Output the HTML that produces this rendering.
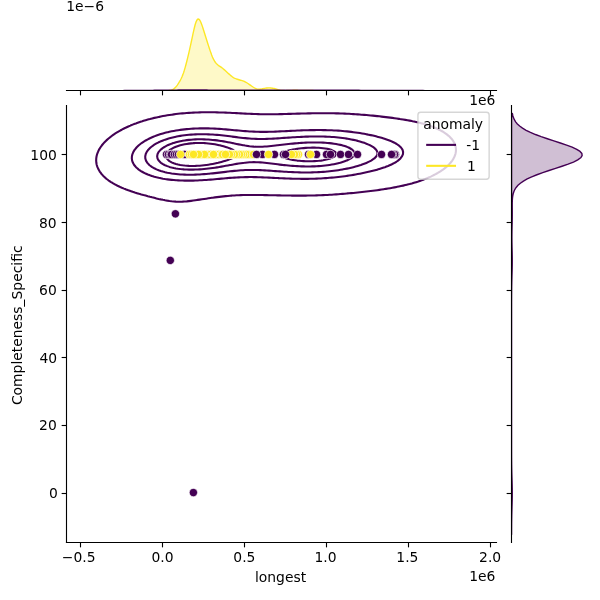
<!DOCTYPE html>
<html lang="en">
<head>
<meta charset="utf-8">
<title>anomaly jointplot</title>
<style>
html,body{margin:0;padding:0;background:#fff;}
body{width:600px;height:600px;overflow:hidden;font-family:"DejaVu Sans","Liberation Sans",sans-serif;}
svg{display:block;}
</style>
</head>
<body>
<svg width="600" height="600" viewBox="0 0 432 432">
 <defs>
  <style type="text/css">*{stroke-linejoin: round; stroke-linecap: butt}</style>
 </defs>
 <g id="figure_1">
  <g id="patch_1">
   <path d="M 0 432 L 432 432 L 432 0 L 0 0 z
" style="fill: #ffffff"/>
  </g>
  <g id="axes_1">
   <g id="patch_2">
    <path d="M 47.82125 390.04 L 357.192214 390.04 L 357.192214 75.812571 L 47.82125 75.812571 z
" style="fill: #ffffff"/>
   </g>
   <g id="matplotlib.axis_1">
    <g id="xtick_1">
     <g id="line2d_1">
      <defs>
       <path id="m53a5f6c6c3" d="M 0 0 L 0 3.5 
" style="stroke: #000000; stroke-width: 0.8"/>
      </defs>
      <g>
       <use href="#m53a5f6c6c3" x="57.9600" y="390.6000" style="stroke: #000000; stroke-width: 0.8"/>
      </g>
     </g>
     <g id="text_1">
      <text style="font-size: 10px; font-family: 'DejaVu Sans', 'Liberation Sans', sans-serif; text-anchor: middle" x="56.6828" y="404.7120">−0.5</text>
     </g>
    </g>
    <g id="xtick_2">
     <g id="line2d_2">
      <g>
       <use href="#m53a5f6c6c3" x="117.0000" y="390.6000" style="stroke: #000000; stroke-width: 0.8"/>
      </g>
     </g>
     <g id="text_2">
      <text style="font-size: 10px; font-family: 'DejaVu Sans', 'Liberation Sans', sans-serif; text-anchor: middle" x="116.9655" y="404.7120">0.0</text>
     </g>
    </g>
    <g id="xtick_3">
     <g id="line2d_3">
      <g>
       <use href="#m53a5f6c6c3" x="176.0400" y="390.6000" style="stroke: #000000; stroke-width: 0.8"/>
      </g>
     </g>
     <g id="text_3">
      <text style="font-size: 10px; font-family: 'DejaVu Sans', 'Liberation Sans', sans-serif; text-anchor: middle" x="175.9394" y="404.7120">0.5</text>
     </g>
    </g>
    <g id="xtick_4">
     <g id="line2d_4">
      <g>
       <use href="#m53a5f6c6c3" x="235.0800" y="390.6000" style="stroke: #000000; stroke-width: 0.8"/>
      </g>
     </g>
     <g id="text_4">
      <text style="font-size: 10px; font-family: 'DejaVu Sans', 'Liberation Sans', sans-serif; text-anchor: middle" x="234.3299" y="404.7120">1.0</text>
     </g>
    </g>
    <g id="xtick_5">
     <g id="line2d_5">
      <g>
       <use href="#m53a5f6c6c3" x="294.1200" y="390.6000" style="stroke: #000000; stroke-width: 0.8"/>
      </g>
     </g>
     <g id="text_5">
      <text style="font-size: 10px; font-family: 'DejaVu Sans', 'Liberation Sans', sans-serif; text-anchor: middle" x="293.3099" y="404.7120">1.5</text>
     </g>
    </g>
    <g id="xtick_6">
     <g id="line2d_6">
      <g>
       <use href="#m53a5f6c6c3" x="353.1600" y="390.6000" style="stroke: #000000; stroke-width: 0.8"/>
      </g>
     </g>
     <g id="text_6">
      <text style="font-size: 10px; font-family: 'DejaVu Sans', 'Liberation Sans', sans-serif; text-anchor: middle" x="352.9055" y="404.7120">2.0</text>
     </g>
    </g>
    <g id="text_7">
     <text style="font-size: 10px; font-family: 'DejaVu Sans', 'Liberation Sans', sans-serif; text-anchor: middle" x="201.9957" y="419.1120">longest</text>
    </g>
    <g id="text_8">
     <text style="font-size: 10px; font-family: 'DejaVu Sans', 'Liberation Sans', sans-serif; text-anchor: end" x="356.7220" y="418.3920">1e6</text>
    </g>
   </g>
   <g id="matplotlib.axis_2">
    <g id="ytick_1">
     <g id="line2d_7">
      <defs>
       <path id="m7cbb305f2e" d="M 0 0 L -3.5 0 
" style="stroke: #000000; stroke-width: 0.8"/>
      </defs>
      <g>
       <use href="#m7cbb305f2e" x="47.8800" y="355.3200" style="stroke: #000000; stroke-width: 0.8"/>
      </g>
     </g>
     <g id="text_9">
      <text style="font-size: 10px; font-family: 'DejaVu Sans', 'Liberation Sans', sans-serif; text-anchor: end" x="41.5716" y="358.6320">0</text>
     </g>
    </g>
    <g id="ytick_2">
     <g id="line2d_8">
      <g>
       <use href="#m7cbb305f2e" x="47.8800" y="306.3600" style="stroke: #000000; stroke-width: 0.8"/>
      </g>
     </g>
     <g id="text_10">
      <text style="font-size: 10px; font-family: 'DejaVu Sans', 'Liberation Sans', sans-serif; text-anchor: end" x="40.8601" y="309.6720">20</text>
     </g>
    </g>
    <g id="ytick_3">
     <g id="line2d_9">
      <g>
       <use href="#m7cbb305f2e" x="47.8800" y="257.4000" style="stroke: #000000; stroke-width: 0.8"/>
      </g>
     </g>
     <g id="text_11">
      <text style="font-size: 10px; font-family: 'DejaVu Sans', 'Liberation Sans', sans-serif; text-anchor: end" x="41.1434" y="261.4320">40</text>
     </g>
    </g>
    <g id="ytick_4">
     <g id="line2d_10">
      <g>
       <use href="#m7cbb305f2e" x="47.8800" y="209.1600" style="stroke: #000000; stroke-width: 0.8"/>
      </g>
     </g>
     <g id="text_12">
      <text style="font-size: 10px; font-family: 'DejaVu Sans', 'Liberation Sans', sans-serif; text-anchor: end" x="40.8546" y="212.4720">60</text>
     </g>
    </g>
    <g id="ytick_5">
     <g id="line2d_11">
      <g>
       <use href="#m7cbb305f2e" x="47.8800" y="160.2000" style="stroke: #000000; stroke-width: 0.8"/>
      </g>
     </g>
     <g id="text_13">
      <text style="font-size: 10px; font-family: 'DejaVu Sans', 'Liberation Sans', sans-serif; text-anchor: end" x="40.8015" y="164.2320">80</text>
     </g>
    </g>
    <g id="ytick_6">
     <g id="line2d_12">
      <g>
       <use href="#m7cbb305f2e" x="47.8800" y="111.2400" style="stroke: #000000; stroke-width: 0.8"/>
      </g>
     </g>
     <g id="text_14">
      <text style="font-size: 10px; font-family: 'DejaVu Sans', 'Liberation Sans', sans-serif; text-anchor: end" x="40.9229" y="115.2720">100</text>
     </g>
    </g>
    <g id="text_15">
     <text style="font-size: 10px; font-family: 'DejaVu Sans', 'Liberation Sans', sans-serif; text-anchor: middle" x="15.7036" y="234.2066" transform="rotate(-90 15.7036 234.2066)">Completeness_Specific</text>
    </g>
   </g>
   <g id="line2d_13"/>
   <g id="line2d_14"/>
   <g id="QuadContourSet_1">
    <path d="M 118.887623 144.13008 L 120.44572 144.447476 L 122.003816 144.705987 L 123.561912 144.908562 L 125.120009 145.05794 L 126.678105 145.156709 L 128.236201 145.207349 L 129.794297 145.212277 L 131.352394 145.173875 L 132.91049 145.094514 L 134.468586 144.976581 L 136.026682 144.822489 L 137.584779 144.634698 L 139.142875 144.415723 L 140.700971 144.168147 L 141.821001 143.971459 L 142.259068 143.920435 L 143.817164 143.722388 L 145.37526 143.509136 L 146.933356 143.282489 L 148.491453 143.044387 L 150.049549 142.796905 L 151.607645 142.542259 L 152.482955 142.397037 L 153.165742 142.316822 L 154.723838 142.132238 L 156.281934 141.946775 L 157.84003 141.762323 L 159.398127 141.580835 L 160.956223 141.404286 L 162.514319 141.23463 L 164.072415 141.073747 L 165.630512 140.923386 L 166.76796 140.822615 L 167.188608 140.795001 L 168.746704 140.702817 L 170.304801 140.620957 L 171.862897 140.550035 L 173.420993 140.490411 L 174.979089 140.442187 L 176.537186 140.405207 L 178.095282 140.379082 L 179.653378 140.36321 L 181.211474 140.356815 L 182.769571 140.358989 L 184.327667 140.368733 L 185.885763 140.384997 L 187.44386 140.406719 L 189.001956 140.432853 L 190.560052 140.462398 L 192.118148 140.494414 L 193.676245 140.528031 L 195.234341 140.562462 L 196.792437 140.596997 L 198.350534 140.631004 L 199.90863 140.663923 L 201.466726 140.695259 L 203.024822 140.724573 L 204.582919 140.751474 L 206.141015 140.775611 L 207.699111 140.796666 L 209.257207 140.814346 L 210.173717 140.822615 L 210.815304 140.830304 L 212.3734 140.843821 L 213.931496 140.851795 L 215.489593 140.8539 L 217.047689 140.849812 L 218.605785 140.839213 L 220.089876 140.822615 L 220.163881 140.821995 L 221.721978 140.803637 L 223.280074 140.779725 L 224.83817 140.750031 L 226.396266 140.714327 L 227.954363 140.672389 L 229.512459 140.62399 L 231.070555 140.568905 L 232.628652 140.506911 L 234.186748 140.437785 L 235.744844 140.361306 L 237.30294 140.277252 L 238.861037 140.185405 L 240.419133 140.085545 L 241.977229 139.977451 L 243.535325 139.860899 L 245.093422 139.735661 L 246.651518 139.6015 L 248.209614 139.458163 L 249.767711 139.30538 L 250.326347 139.248194 L 251.325807 139.168516 L 252.883903 139.038029 L 254.441999 138.899709 L 256.000096 138.753221 L 257.558192 138.598171 L 259.116288 138.434093 L 260.674385 138.260441 L 262.232481 138.076569 L 263.790577 137.881715 L 265.348673 137.674986 L 265.357617 137.673772 L 266.90677 137.505477 L 268.464866 137.325469 L 270.022962 137.13362 L 271.581058 136.928702 L 273.139155 136.709305 L 274.697251 136.473816 L 276.255347 136.220389 L 276.962374 136.09935 L 277.813444 135.979671 L 279.37154 135.74754 L 280.929636 135.49596 L 282.487732 135.222562 L 284.045829 134.924652 L 285.603925 134.599157 L 285.94271 134.524928 L 287.162021 134.299153 L 288.720117 133.986405 L 290.278214 133.642531 L 291.83631 133.263451 L 293.01862 132.950507 L 293.394406 132.864075 L 294.952503 132.486079 L 296.510599 132.066933 L 298.068695 131.600932 L 298.771468 131.376085 L 299.626791 131.131264 L 301.184888 130.649609 L 302.742984 130.110928 L 303.572365 129.801663 L 304.30108 129.551556 L 305.859177 128.976271 L 307.417273 128.328866 L 307.651347 128.227242 L 308.975369 127.682378 L 310.533465 126.967559 L 311.174811 126.65282 L 312.091562 126.214095 L 313.649658 125.400307 L 314.227933 125.078398 L 315.207754 124.530556 L 316.76585 123.574389 L 316.876865 123.503976 L 318.323947 122.553124 L 319.202714 121.929555 L 319.882043 121.41445 L 321.202377 120.355133 L 321.440139 120.144306 L 322.923491 118.780711 L 322.998236 118.701865 L 324.394027 117.20629 L 324.556332 116.997879 L 325.625285 115.631868 L 326.114428 114.842314 L 326.61311 114.057446 L 327.36903 112.483024 L 327.672524 111.563975 L 327.903033 110.908603 L 328.224707 109.334181 L 328.314722 107.759759 L 328.172025 106.185338 L 327.782201 104.610916 L 327.672524 104.33897 L 327.164435 103.036494 L 326.259369 101.462072 L 326.114428 101.265938 L 325.08319 99.887651 L 324.556332 99.322786 L 323.578214 98.313229 L 322.998236 97.803804 L 321.706173 96.738807 L 321.440139 96.542846 L 319.882043 95.45934 L 319.424347 95.164386 L 318.323947 94.499476 L 316.76585 93.657171 L 316.634729 93.589964 L 315.207754 92.873961 L 313.649658 92.184862 L 313.239568 92.015542 L 312.091562 91.532807 L 310.533465 90.942055 L 309.042378 90.44112 L 308.975369 90.417334 L 307.417273 89.888375 L 305.859177 89.417669 L 304.30108 88.997703 L 303.781046 88.866699 L 302.742984 88.578471 L 301.184888 88.180804 L 299.626791 87.822313 L 298.068695 87.498195 L 296.99554 87.292277 L 296.510599 87.185733 L 294.952503 86.861715 L 293.394406 86.565589 L 291.83631 86.294098 L 290.278214 86.0444 L 288.720117 85.814015 L 288.03455 85.717855 L 287.162021 85.572284 L 285.603925 85.325964 L 284.045829 85.096444 L 282.487732 84.882032 L 280.929636 84.681277 L 279.37154 84.492942 L 277.813444 84.315978 L 276.255347 84.149505 L 276.197019 84.143434 L 274.697251 83.951337 L 273.139155 83.763043 L 271.581058 83.585653 L 270.022962 83.418636 L 268.464866 83.261549 L 266.90677 83.114016 L 265.348673 82.975719 L 263.790577 82.846372 L 262.232481 82.725723 L 260.674385 82.613532 L 260.017034 82.569012 L 259.116288 82.491283 L 257.558192 82.365715 L 256.000096 82.250209 L 254.441999 82.144473 L 252.883903 82.048211 L 251.325807 81.961119 L 249.767711 81.882889 L 248.209614 81.813208 L 246.651518 81.751759 L 245.093422 81.698225 L 243.535325 81.652286 L 241.977229 81.613626 L 240.419133 81.581931 L 238.861037 81.556893 L 237.30294 81.538208 L 235.744844 81.52558 L 234.186748 81.518721 L 232.628652 81.51735 L 231.070555 81.521195 L 229.512459 81.529989 L 227.954363 81.543473 L 226.396266 81.561392 L 224.83817 81.58349 L 223.280074 81.60951 L 221.721978 81.639188 L 220.163881 81.672248 L 218.605785 81.708393 L 217.047689 81.747302 L 215.489593 81.788618 L 213.931496 81.831943 L 212.3734 81.876827 L 210.815304 81.922759 L 209.257207 81.969166 L 207.699111 82.015401 L 206.141015 82.060743 L 204.582919 82.104403 L 203.024822 82.145521 L 201.466726 82.183187 L 199.90863 82.216454 L 198.350534 82.244361 L 196.792437 82.265969 L 195.234341 82.280392 L 193.676245 82.286839 L 192.118148 82.284651 L 190.560052 82.273345 L 189.001956 82.252642 L 187.44386 82.222491 L 185.885763 82.183088 L 184.327667 82.134867 L 182.769571 82.078498 L 181.211474 82.014851 L 179.653378 81.944966 L 178.095282 81.870012 L 176.537186 81.791234 L 174.979089 81.709916 L 173.420993 81.627332 L 171.862897 81.544712 L 170.304801 81.463217 L 168.746704 81.383912 L 167.188608 81.30776 L 165.630512 81.235612 L 164.072415 81.168212 L 162.514319 81.106203 L 160.956223 81.050133 L 159.398127 81.000471 L 159.186615 80.99459 L 157.84003 80.944979 L 156.281934 80.897031 L 154.723838 80.859066 L 153.165742 80.831487 L 151.607645 80.814688 L 150.049549 80.809073 L 148.491453 80.815065 L 146.933356 80.833132 L 145.37526 80.863794 L 143.817164 80.907642 L 142.259068 80.965355 L 141.625 80.99459 L 140.700971 81.026451 L 139.142875 81.091307 L 137.584779 81.168267 L 136.026682 81.258178 L 134.468586 81.362018 L 132.91049 81.480918 L 131.352394 81.616185 L 129.794297 81.769323 L 128.236201 81.942073 L 126.678105 82.13644 L 125.120009 82.354742 L 123.749317 82.569012 L 123.561912 82.59187 L 122.003816 82.796445 L 120.44572 83.025301 L 118.887623 83.281424 L 117.329527 83.568284 L 115.771431 83.889912 L 114.65662 84.143434 L 114.213335 84.224818 L 112.655238 84.531513 L 111.097142 84.876163 L 109.539046 85.264264 L 107.98095 85.702268 L 107.927872 85.717855 L 106.422853 86.086506 L 104.864757 86.517083 L 103.306661 87.005484 L 102.466401 87.292277 L 101.748564 87.502483 L 100.190468 87.997196 L 98.632372 88.561826 L 97.857549 88.866699 L 97.074276 89.138795 L 95.516179 89.729046 L 93.958083 90.407547 L 93.883596 90.44112 L 92.399987 91.048893 L 90.84189 91.781985 L 90.375168 92.015542 L 89.283794 92.525503 L 87.725698 93.341464 L 87.278809 93.589964 L 86.167602 94.183041 L 84.609505 95.119305 L 84.536661 95.164386 L 83.051409 96.071851 L 82.063921 96.738807 L 81.493313 97.129556 L 79.935217 98.280694 L 79.892246 98.313229 L 78.37712 99.511838 L 77.927714 99.887651 L 76.819024 100.884994 L 76.199488 101.462072 L 75.260928 102.432195 L 74.684534 103.036494 L 73.702831 104.21778 L 73.374008 104.610916 L 72.256248 106.185338 L 72.144735 106.374886 L 71.293072 107.759759 L 70.586639 109.264991 L 70.551987 109.334181 L 69.939791 110.908603 L 69.528597 112.483024 L 69.298849 114.057446 L 69.241707 115.631868 L 69.358191 117.20629 L 69.65926 118.780711 L 70.166823 120.355133 L 70.586639 121.267251 L 70.877208 121.929555 L 71.798488 123.503976 L 72.144735 123.978335 L 72.94637 125.078398 L 73.702831 125.933918 L 74.354225 126.65282 L 75.260928 127.520093 L 76.038368 128.227242 L 76.819024 128.870574 L 78.037725 129.801663 L 78.37712 130.046327 L 79.935217 131.100273 L 80.376471 131.376085 L 81.493313 132.064628 L 83.051409 132.91296 L 83.123845 132.950507 L 84.609505 133.743281 L 86.167602 134.461282 L 86.313571 134.524928 L 87.725698 135.186226 L 89.283794 135.824469 L 90.019971 136.09935 L 90.84189 136.443435 L 92.399987 137.039118 L 93.958083 137.560157 L 94.322404 137.673772 L 95.516179 138.11273 L 97.074276 138.627386 L 98.632372 139.081602 L 99.253057 139.248194 L 100.190468 139.561157 L 101.748564 140.035788 L 103.306661 140.457496 L 104.82224 140.822615 L 104.864757 140.836124 L 106.422853 141.301663 L 107.98095 141.716248 L 109.539046 142.084824 L 111.024716 142.397037 L 111.097142 142.418561 L 112.655238 142.844734 L 114.213335 143.219806 L 115.771431 143.547432 L 117.329527 143.830773 L 118.225759 143.971459 L 118.887623 144.13008 z
" clip-path="url(#p753433474e)" style="fill: none; stroke: #440154; stroke-width: 1.5"/>
    <path d="M 128.236201 129.868739 L 129.794297 129.952348 L 131.352394 130.013643 L 132.91049 130.053983 L 134.468586 130.074565 L 136.026682 130.076449 L 137.584779 130.060584 L 139.142875 130.027835 L 140.700971 129.979004 L 142.259068 129.914859 L 143.817164 129.836158 L 144.401664 129.801663 L 145.37526 129.751213 L 146.933356 129.659541 L 148.491453 129.557434 L 150.049549 129.445726 L 151.607645 129.325341 L 153.165742 129.197322 L 154.723838 129.062841 L 156.281934 128.923221 L 157.84003 128.779938 L 159.398127 128.634626 L 160.956223 128.489072 L 162.514319 128.345192 L 163.828853 128.227242 L 164.072415 128.207394 L 165.630512 128.087355 L 167.188608 127.974182 L 168.746704 127.869659 L 170.304801 127.775463 L 171.862897 127.693098 L 173.420993 127.62383 L 174.979089 127.56863 L 176.537186 127.528131 L 178.095282 127.502599 L 179.653378 127.491927 L 181.211474 127.495645 L 182.769571 127.512951 L 184.327667 127.542759 L 185.885763 127.583761 L 187.44386 127.634485 L 189.001956 127.693363 L 190.560052 127.758795 L 192.118148 127.829197 L 193.676245 127.903047 L 195.234341 127.978917 L 196.792437 128.055493 L 198.350534 128.131587 L 199.90863 128.206138 L 200.36167 128.227242 L 201.466726 128.283599 L 203.024822 128.359656 L 204.582919 128.431293 L 206.141015 128.497815 L 207.699111 128.558607 L 209.257207 128.613115 L 210.815304 128.660836 L 212.3734 128.7013 L 213.931496 128.734064 L 215.489593 128.758702 L 217.047689 128.774799 L 218.605785 128.781945 L 220.163881 128.779731 L 221.721978 128.767751 L 223.280074 128.745593 L 224.83817 128.712848 L 226.396266 128.6691 L 227.954363 128.613934 L 229.512459 128.54693 L 231.070555 128.46767 L 232.628652 128.37573 L 234.186748 128.270691 L 234.762222 128.227242 L 235.744844 128.159993 L 237.30294 128.041483 L 238.861037 127.910279 L 240.419133 127.766026 L 241.977229 127.608364 L 243.535325 127.43693 L 245.093422 127.251357 L 246.651518 127.05127 L 248.209614 126.836281 L 249.457043 126.65282 L 249.767711 126.609971 L 251.325807 126.385015 L 252.883903 126.145489 L 254.441999 125.890938 L 256.000096 125.620854 L 257.558192 125.334666 L 258.88237 125.078398 L 259.116288 125.034563 L 260.674385 124.733778 L 262.232481 124.415971 L 263.790577 124.080184 L 265.348673 123.725299 L 266.280502 123.503976 L 266.90677 123.355129 L 268.464866 122.971352 L 270.022962 122.565032 L 271.581058 122.134238 L 272.292553 121.929555 L 273.139155 121.677074 L 274.697251 121.191392 L 276.255347 120.674225 L 277.171223 120.355133 L 277.813444 120.113851 L 279.37154 119.502773 L 280.929636 118.848834 L 281.086799 118.780711 L 282.487732 118.095073 L 284.045829 117.28048 L 284.18317 117.20629 L 285.603925 116.289273 L 286.57181 115.631868 L 287.162021 115.1145 L 288.329482 114.057446 L 288.720117 113.542296 L 289.512456 112.483024 L 290.145259 110.908603 L 290.23873 109.334181 L 289.779423 107.759759 L 288.722558 106.185338 L 288.720117 106.182979 L 287.162021 104.742073 L 287.012867 104.610916 L 285.603925 103.681757 L 284.555475 103.036494 L 284.045829 102.778462 L 282.487732 102.028185 L 281.225144 101.462072 L 280.929636 101.345459 L 279.37154 100.753654 L 277.813444 100.202747 L 276.873672 99.887651 L 276.255347 99.695115 L 274.697251 99.229563 L 273.139155 98.792896 L 271.581058 98.382862 L 271.307751 98.313229 L 270.022962 97.995217 L 268.464866 97.630142 L 266.90677 97.286899 L 265.348673 96.964475 L 264.195863 96.738807 L 263.790577 96.658657 L 262.232481 96.362871 L 260.674385 96.08628 L 259.116288 95.828321 L 257.558192 95.588473 L 256.000096 95.366242 L 254.467316 95.164386 L 254.441999 95.16088 L 252.883903 94.95734 L 251.325807 94.770983 L 249.767711 94.601276 L 248.209614 94.447669 L 246.651518 94.309603 L 245.093422 94.186505 L 243.535325 94.077794 L 241.977229 93.982887 L 240.419133 93.901195 L 238.861037 93.832138 L 237.30294 93.775137 L 235.744844 93.729626 L 234.186748 93.695051 L 232.628652 93.670873 L 231.070555 93.656568 L 229.512459 93.65163 L 227.954363 93.655572 L 226.396266 93.667922 L 224.83817 93.688223 L 223.280074 93.71603 L 221.721978 93.750904 L 220.163881 93.792409 L 218.605785 93.840102 L 217.047689 93.893528 L 215.489593 93.952203 L 213.931496 94.015612 L 212.3734 94.083187 L 210.815304 94.154299 L 209.257207 94.228242 L 207.699111 94.30422 L 206.141015 94.381334 L 204.582919 94.458571 L 203.024822 94.534799 L 201.466726 94.608767 L 199.90863 94.679106 L 198.350534 94.744345 L 196.792437 94.802937 L 195.234341 94.853288 L 193.676245 94.893806 L 192.118148 94.92295 L 190.560052 94.9393 L 189.001956 94.941619 L 187.44386 94.928921 L 185.885763 94.900539 L 184.327667 94.856169 L 182.769571 94.795915 L 181.211474 94.720298 L 179.653378 94.630253 L 178.095282 94.527097 L 176.537186 94.41248 L 174.979089 94.288318 L 173.420993 94.156712 L 171.862897 94.019874 L 170.304801 93.88004 L 168.746704 93.739403 L 167.188608 93.600054 L 167.075076 93.589964 L 165.630512 93.449731 L 164.072415 93.3038 L 162.514319 93.165098 L 160.956223 93.035112 L 159.398127 92.915124 L 157.84003 92.806226 L 156.281934 92.709344 L 154.723838 92.625264 L 153.165742 92.554658 L 151.607645 92.498113 L 150.049549 92.456159 L 148.491453 92.429295 L 146.933356 92.418013 L 145.37526 92.422823 L 143.817164 92.444275 L 142.259068 92.482979 L 140.700971 92.53963 L 139.142875 92.615026 L 137.584779 92.71009 L 136.026682 92.825896 L 134.468586 92.963689 L 132.91049 93.124916 L 131.352394 93.311254 L 129.794297 93.524646 L 129.366683 93.589964 L 128.236201 93.746162 L 126.678105 93.987444 L 125.120009 94.258724 L 123.561912 94.562904 L 122.003816 94.903337 L 120.921164 95.164386 L 120.44572 95.271712 L 118.887623 95.652806 L 117.329527 96.077336 L 115.771431 96.550459 L 115.195871 96.738807 L 114.213335 97.050212 L 112.655238 97.589507 L 111.097142 98.190665 L 110.797697 98.313229 L 109.539046 98.829173 L 107.98095 99.533158 L 107.252301 99.887651 L 106.422853 100.305581 L 104.864757 101.155225 L 104.336295 101.462072 L 103.306661 102.104083 L 101.923957 103.036494 L 101.748564 103.168509 L 100.190468 104.394439 L 99.927411 104.610916 L 98.632372 105.856116 L 98.300964 106.185338 L 97.074276 107.688782 L 97.017039 107.759759 L 96.034381 109.334181 L 95.516179 110.564042 L 95.36713 110.908603 L 94.985282 112.483024 L 94.908078 114.057446 L 95.142216 115.631868 L 95.516179 116.680046 L 95.70326 117.20629 L 96.611881 118.780711 L 97.074276 119.352859 L 97.92084 120.355133 L 98.632372 121.014021 L 99.694482 121.929555 L 100.190468 122.28936 L 101.748564 123.328215 L 102.033943 123.503976 L 103.306661 124.20708 L 104.864757 124.96779 L 105.109995 125.078398 L 106.422853 125.638799 L 107.98095 126.227408 L 109.253636 126.65282 L 109.539046 126.747496 L 111.097142 127.223655 L 112.655238 127.641432 L 114.213335 128.007455 L 115.268548 128.227242 L 115.771431 128.336897 L 117.329527 128.642733 L 118.887623 128.909043 L 120.44572 129.139683 L 122.003816 129.337996 L 123.561912 129.506884 L 125.120009 129.648866 L 126.678105 129.76613 L 127.257795 129.801663 L 128.236201 129.868739 z
" clip-path="url(#p753433474e)" style="fill: none; stroke: #440154; stroke-width: 1.5"/>
    <path d="M 125.120009 125.106345 L 126.678105 125.29742 L 128.236201 125.454648 L 129.794297 125.580649 L 131.352394 125.677705 L 132.91049 125.747801 L 134.468586 125.792674 L 136.026682 125.813846 L 137.584779 125.812663 L 139.142875 125.790326 L 140.700971 125.747922 L 142.259068 125.686459 L 143.817164 125.606889 L 145.37526 125.510145 L 146.933356 125.397169 L 148.491453 125.268941 L 150.049549 125.126515 L 150.536386 125.078398 L 151.607645 124.976894 L 153.165742 124.818909 L 154.723838 124.651304 L 156.281934 124.475585 L 157.84003 124.293441 L 159.398127 124.106761 L 160.956223 123.917634 L 162.514319 123.728345 L 164.072415 123.541355 L 164.396858 123.503976 L 165.630512 123.362759 L 167.188608 123.192294 L 168.746704 123.031622 L 170.304801 122.883279 L 171.862897 122.749662 L 173.420993 122.632941 L 174.979089 122.534963 L 176.537186 122.457167 L 178.095282 122.400515 L 179.653378 122.365449 L 181.211474 122.351867 L 182.769571 122.359137 L 184.327667 122.386138 L 185.885763 122.431323 L 187.44386 122.492803 L 189.001956 122.568439 L 190.560052 122.655941 L 192.118148 122.752956 L 193.676245 122.857153 L 195.234341 122.966286 L 196.792437 123.078242 L 198.350534 123.19108 L 199.90863 123.303044 L 201.466726 123.412567 L 202.812302 123.503976 L 203.024822 123.518396 L 204.582919 123.619976 L 206.141015 123.715459 L 207.699111 123.803922 L 209.257207 123.88455 L 210.815304 123.956611 L 212.3734 124.019441 L 213.931496 124.072426 L 215.489593 124.114989 L 217.047689 124.146576 L 218.605785 124.166652 L 220.163881 124.174691 L 221.721978 124.170173 L 223.280074 124.15258 L 224.83817 124.121398 L 226.396266 124.07611 L 227.954363 124.0162 L 229.512459 123.941151 L 231.070555 123.850445 L 232.628652 123.743564 L 234.186748 123.619988 L 235.472924 123.503976 L 235.744844 123.479713 L 237.30294 123.324642 L 238.861037 123.15198 L 240.419133 122.961253 L 241.977229 122.751982 L 243.535325 122.523678 L 245.093422 122.275846 L 246.651518 122.007977 L 247.081796 121.929555 L 248.209614 121.717844 L 249.767711 121.406211 L 251.325807 121.07322 L 252.883903 120.718268 L 254.383924 120.355133 L 254.441999 120.340031 L 256.000096 119.920742 L 257.558192 119.476848 L 259.116288 119.00742 L 259.839859 118.780711 L 260.674385 118.485696 L 262.232481 117.912562 L 263.790577 117.308377 L 264.046977 117.20629 L 265.348673 116.584536 L 266.90677 115.805114 L 267.244054 115.631868 L 268.464866 114.812355 L 269.552456 114.057446 L 270.022962 113.565085 L 271.041779 112.483024 L 271.581058 111.27862 L 271.747348 110.908603 L 271.680137 109.334181 L 271.581058 109.150047 L 270.822494 107.759759 L 270.022962 107.006461 L 269.121774 106.185338 L 268.464866 105.77628 L 266.90677 104.847687 L 266.493413 104.610916 L 265.348673 104.098766 L 263.790577 103.439479 L 262.784474 103.036494 L 262.232481 102.848858 L 260.674385 102.342678 L 259.116288 101.87055 L 257.669991 101.462072 L 257.558192 101.433553 L 256.000096 101.053965 L 254.441999 100.702815 L 252.883903 100.379296 L 251.325807 100.082593 L 250.211702 99.887651 L 249.767711 99.813514 L 248.209614 99.572955 L 246.651518 99.355679 L 245.093422 99.160832 L 243.535325 98.987545 L 241.977229 98.834934 L 240.419133 98.702111 L 238.861037 98.588186 L 237.30294 98.492277 L 235.744844 98.413513 L 234.186748 98.351044 L 232.935174 98.313229 L 232.628652 98.303812 L 231.070555 98.270638 L 229.512459 98.251666 L 227.954363 98.246162 L 226.396266 98.253421 L 224.83817 98.27276 L 223.280074 98.30352 L 222.915279 98.313229 L 221.721978 98.344147 L 220.163881 98.394305 L 218.605785 98.453644 L 217.047689 98.521536 L 215.489593 98.597335 L 213.931496 98.680361 L 212.3734 98.769887 L 210.815304 98.865121 L 209.257207 98.965183 L 207.699111 99.069088 L 206.141015 99.175728 L 204.582919 99.283853 L 203.024822 99.392056 L 201.466726 99.498766 L 199.90863 99.602241 L 198.350534 99.700578 L 196.792437 99.791728 L 195.234341 99.873528 L 194.91891 99.887651 L 193.676245 99.943969 L 192.118148 100.000663 L 190.560052 100.041363 L 189.001956 100.064006 L 187.44386 100.06676 L 185.885763 100.048125 L 184.327667 100.007024 L 182.769571 99.942893 L 181.782692 99.887651 L 181.211474 99.85612 L 179.653378 99.748033 L 178.095282 99.619348 L 176.537186 99.471928 L 174.979089 99.308132 L 173.420993 99.130713 L 171.862897 98.942715 L 170.304801 98.747346 L 168.746704 98.547867 L 167.188608 98.347477 L 166.923481 98.313229 L 165.630512 98.146415 L 164.072415 97.94983 L 162.514319 97.760843 L 160.956223 97.581694 L 159.398127 97.41433 L 157.84003 97.260418 L 156.281934 97.121365 L 154.723838 96.998349 L 153.165742 96.892355 L 151.607645 96.804212 L 150.144066 96.738807 L 150.049549 96.734397 L 148.491453 96.681129 L 146.933356 96.648673 L 145.37526 96.637692 L 143.817164 96.648876 L 142.259068 96.682974 L 140.755228 96.738807 L 140.700971 96.740706 L 139.142875 96.818283 L 137.584779 96.919888 L 136.026682 97.046621 L 134.468586 97.199764 L 132.91049 97.38082 L 131.352394 97.591538 L 129.794297 97.833956 L 128.236201 98.110442 L 127.218571 98.313229 L 126.678105 98.419125 L 125.120009 98.756939 L 123.561912 99.135346 L 122.003816 99.558178 L 120.903474 99.887651 L 120.44572 100.027593 L 118.887623 100.543622 L 117.329527 101.116424 L 116.465265 101.462072 L 115.771431 101.756719 L 114.213335 102.471554 L 113.085655 103.036494 L 112.655238 103.27537 L 111.097142 104.197486 L 110.444616 104.610916 L 109.539046 105.278662 L 108.381615 106.185338 L 107.98095 106.57366 L 106.804231 107.759759 L 106.422853 108.277687 L 105.658805 109.334181 L 104.922603 110.908603 L 104.864757 111.174464 L 104.574245 112.483024 L 104.626563 114.057446 L 104.864757 114.860293 L 105.098255 115.631868 L 106.030511 117.20629 L 106.422853 117.648594 L 107.498721 118.780711 L 107.98095 119.165022 L 109.539046 120.295452 L 109.628453 120.355133 L 111.097142 121.172353 L 112.655238 121.928972 L 112.656544 121.929555 L 114.213335 122.550671 L 115.771431 123.092622 L 117.122934 123.503976 L 117.329527 123.563502 L 118.887623 123.969755 L 120.44572 124.321948 L 122.003816 124.625554 L 123.561912 124.885314 L 124.924502 125.078398 L 125.120009 125.106345 z
" clip-path="url(#p753433474e)" style="fill: none; stroke: #440154; stroke-width: 1.5"/>
    <path d="M 132.91049 121.986245 L 134.468586 122.06872 L 136.026682 122.118382 L 137.584779 122.137267 L 139.142875 122.127171 L 140.700971 122.089699 L 142.259068 122.026302 L 143.817164 121.938325 L 143.940541 121.929555 L 145.37526 121.825283 L 146.933356 121.689925 L 148.491453 121.533727 L 150.049549 121.358033 L 151.607645 121.164261 L 153.165742 120.953945 L 154.723838 120.728774 L 156.281934 120.49063 L 157.13633 120.355133 L 157.84003 120.235502 L 159.398127 119.964235 L 160.956223 119.686854 L 162.514319 119.406297 L 164.072415 119.125779 L 165.630512 118.848775 L 166.029229 118.780711 L 167.188608 118.556866 L 168.746704 118.26931 L 170.304801 117.997709 L 171.862897 117.746248 L 173.420993 117.51897 L 174.979089 117.319624 L 176.034446 117.20629 L 176.537186 117.140592 L 178.095282 116.979081 L 179.653378 116.859913 L 181.211474 116.784706 L 182.769571 116.754006 L 184.327667 116.767234 L 185.885763 116.822694 L 187.44386 116.917659 L 189.001956 117.048498 L 190.516155 117.20629 L 190.560052 117.210021 L 192.118148 117.364046 L 193.676245 117.535167 L 195.234341 117.719196 L 196.792437 117.912068 L 198.350534 118.10994 L 199.90863 118.309264 L 201.466726 118.506829 L 203.024822 118.699775 L 203.699474 118.780711 L 204.582919 118.872728 L 206.141015 119.027656 L 207.699111 119.172871 L 209.257207 119.306955 L 210.815304 119.42866 L 212.3734 119.536884 L 213.931496 119.630633 L 215.489593 119.709 L 217.047689 119.771144 L 218.605785 119.816271 L 220.163881 119.843624 L 221.721978 119.852471 L 223.280074 119.842101 L 224.83817 119.811818 L 226.396266 119.760937 L 227.954363 119.688782 L 229.512459 119.594687 L 231.070555 119.477989 L 232.628652 119.33803 L 234.186748 119.174155 L 235.744844 118.985705 L 237.240105 118.780711 L 237.30294 118.771022 L 238.861037 118.504312 L 240.419133 118.208821 L 241.977229 117.88389 L 243.535325 117.528836 L 244.840916 117.20629 L 245.093422 117.131356 L 246.651518 116.638507 L 248.209614 116.109195 L 249.525788 115.631868 L 249.767711 115.51627 L 251.325807 114.735717 L 252.606981 114.057446 L 252.883903 113.831153 L 254.441999 112.510638 L 254.473606 112.483024 L 255.261734 110.908603 L 255.005982 109.334181 L 254.441999 108.664545 L 253.637594 107.759759 L 252.883903 107.289606 L 251.325807 106.3874 L 250.950274 106.185338 L 249.767711 105.732528 L 248.209614 105.187309 L 246.651518 104.695597 L 246.358003 104.610916 L 245.093422 104.316159 L 243.535325 103.990593 L 241.977229 103.702535 L 240.419133 103.450258 L 238.861037 103.232025 L 237.30294 103.04611 L 237.207737 103.036494 L 235.744844 102.905633 L 234.186748 102.791794 L 232.628652 102.702268 L 231.070555 102.63576 L 229.512459 102.591024 L 227.954363 102.566863 L 226.396266 102.562134 L 224.83817 102.575741 L 223.280074 102.606638 L 221.721978 102.653823 L 220.163881 102.716325 L 218.605785 102.793198 L 217.047689 102.883509 L 215.489593 102.986316 L 214.803687 103.036494 L 213.931496 103.106855 L 212.3734 103.243654 L 210.815304 103.390649 L 209.257207 103.546566 L 207.699111 103.710003 L 206.141015 103.879401 L 204.582919 104.053008 L 203.024822 104.228855 L 201.466726 104.404728 L 199.90863 104.57815 L 199.602547 104.610916 L 198.350534 104.768614 L 196.792437 104.955083 L 195.234341 105.12848 L 193.676245 105.284827 L 192.118148 105.41994 L 190.560052 105.529517 L 189.001956 105.609258 L 187.44386 105.655012 L 185.885763 105.662955 L 184.327667 105.629787 L 182.769571 105.552939 L 181.211474 105.430777 L 179.653378 105.26277 L 178.095282 105.049635 L 176.537186 104.793398 L 175.578406 104.610916 L 174.979089 104.515959 L 173.420993 104.239691 L 171.862897 103.939808 L 170.304801 103.621604 L 168.746704 103.290742 L 167.57834 103.036494 L 167.188608 102.962127 L 165.630512 102.660413 L 164.072415 102.362715 L 162.514319 102.073354 L 160.956223 101.796222 L 159.398127 101.534739 L 158.938203 101.462072 L 157.84003 101.302007 L 156.281934 101.093152 L 154.723838 100.905679 L 153.165742 100.741144 L 151.607645 100.60083 L 150.049549 100.485801 L 148.491453 100.396954 L 146.933356 100.335076 L 145.37526 100.300889 L 143.817164 100.295103 L 142.259068 100.318452 L 140.700971 100.371738 L 139.142875 100.455874 L 137.584779 100.571914 L 136.026682 100.721092 L 134.468586 100.904864 L 132.91049 101.124941 L 131.352394 101.383335 L 130.9372 101.462072 L 129.794297 101.690015 L 128.236201 102.043158 L 126.678105 102.442889 L 125.120009 102.89272 L 124.667105 103.036494 L 123.561912 103.423111 L 122.003816 104.024758 L 120.630358 104.610916 L 120.44572 104.702526 L 118.887623 105.533405 L 117.765908 106.185338 L 117.329527 106.501 L 115.771431 107.704841 L 115.704052 107.759759 L 114.292152 109.334181 L 114.213335 109.478653 L 113.451405 110.908603 L 113.150628 112.483024 L 113.404549 114.057446 L 114.213335 115.545432 L 114.263775 115.631868 L 115.771431 117.129586 L 115.856965 117.20629 L 117.329527 118.154142 L 118.443459 118.780711 L 118.887623 118.981712 L 120.44572 119.611524 L 122.003816 120.15228 L 122.674158 120.355133 L 123.561912 120.591469 L 125.120009 120.949996 L 126.678105 121.251888 L 128.236201 121.502381 L 129.794297 121.706015 L 131.352394 121.866722 L 132.153682 121.929555 L 132.91049 121.986245 z
" clip-path="url(#p753433474e)" style="fill: none; stroke: #440154; stroke-width: 1.5"/>
    <path d="M 129.794297 118.788862 L 131.352394 119.024767 L 132.91049 119.207201 L 134.468586 119.340421 L 136.026682 119.428124 L 137.584779 119.473532 L 139.142875 119.479467 L 140.700971 119.448415 L 142.259068 119.382592 L 143.817164 119.283997 L 145.37526 119.154473 L 146.933356 118.995758 L 148.491453 118.809539 L 148.704899 118.780711 L 150.049549 118.576495 L 151.607645 118.313964 L 153.165742 118.027341 L 154.723838 117.7188 L 156.281934 117.390713 L 157.120928 117.20629 L 157.84003 117.015865 L 159.398127 116.590569 L 160.956223 116.152815 L 162.514319 115.70652 L 162.776771 115.631868 L 164.072415 115.140741 L 165.630512 114.552034 L 166.95712 114.057446 L 167.188608 113.919294 L 168.746704 113.022382 L 169.71774 112.483024 L 170.304801 111.571703 L 170.75758 110.908603 L 170.304801 110.05214 L 169.961125 109.334181 L 168.746704 108.555258 L 167.571725 107.759759 L 167.188608 107.604283 L 165.630512 106.952729 L 164.072415 106.300547 L 163.796679 106.185338 L 162.514319 105.794642 L 160.956223 105.334396 L 159.398127 104.896729 L 158.317354 104.610916 L 157.84003 104.508243 L 156.281934 104.195091 L 154.723838 103.911652 L 153.165742 103.660421 L 151.607645 103.443392 L 150.049549 103.262143 L 148.491453 103.117917 L 147.300702 103.036494 L 146.933356 103.014179 L 145.37526 102.953374 L 143.817164 102.92809 L 142.259068 102.939171 L 140.700971 102.98752 L 139.820567 103.036494 L 139.142875 103.077888 L 137.584779 103.216087 L 136.026682 103.398314 L 134.468586 103.626005 L 132.91049 103.900896 L 131.352394 104.225077 L 129.794297 104.601046 L 129.758072 104.610916 L 128.236201 105.093469 L 126.678105 105.65073 L 125.341231 106.185338 L 125.120009 106.296275 L 123.561912 107.150247 L 122.545709 107.759759 L 122.003816 108.214878 L 120.759923 109.334181 L 120.44572 109.825477 L 119.784183 110.908603 L 119.54329 112.483024 L 120.065871 114.057446 L 120.44572 114.509881 L 121.503055 115.631868 L 122.003816 115.963181 L 123.561912 116.865383 L 124.246638 117.20629 L 125.120009 117.534426 L 126.678105 118.035056 L 128.236201 118.450763 L 129.750082 118.780711 L 129.794297 118.788862 z M 215.489593 115.777625 L 217.047689 115.900872 L 218.605785 115.996384 L 220.163881 116.062988 L 221.721978 116.099595 L 223.280074 116.10518 L 224.83817 116.078775 L 226.396266 116.019459 L 227.954363 115.926349 L 229.512459 115.798591 L 231.070555 115.635359 L 231.097843 115.631868 L 232.628652 115.36958 L 234.186748 115.054901 L 235.744844 114.691932 L 237.30294 114.280064 L 238.056094 114.057446 L 238.861037 113.676459 L 240.419133 112.86818 L 241.102682 112.483024 L 241.977229 111.157049 L 242.131846 110.908603 L 241.977229 110.574801 L 241.332888 109.334181 L 240.419133 108.81596 L 238.861037 108.049489 L 238.174465 107.759759 L 237.30294 107.537185 L 235.744844 107.19875 L 234.186748 106.919517 L 232.628652 106.695626 L 231.070555 106.523396 L 229.512459 106.399345 L 227.954363 106.320197 L 226.396266 106.282886 L 224.83817 106.284555 L 223.280074 106.322546 L 221.721978 106.394385 L 220.163881 106.497762 L 218.605785 106.630509 L 217.047689 106.790572 L 215.489593 106.975974 L 213.931496 107.184783 L 212.3734 107.415069 L 210.815304 107.664862 L 210.259939 107.759759 L 209.257207 108.015182 L 207.699111 108.432762 L 206.141015 108.868372 L 204.582919 109.318532 L 204.529553 109.334181 L 203.024822 110.279761 L 202.033636 110.908603 L 202.473723 112.483024 L 203.024822 112.741711 L 204.582919 113.459891 L 205.933508 114.057446 L 206.141015 114.107518 L 207.699111 114.466847 L 209.257207 114.8016 L 210.815304 115.108322 L 212.3734 115.384086 L 213.931496 115.626403 L 213.972203 115.631868 L 215.489593 115.777625 z
" clip-path="url(#p753433474e)" style="fill: none; stroke: #440154; stroke-width: 1.5"/>
    <path clip-path="url(#p753433474e)" style="fill: none; stroke: #440154; stroke-width: 1.5"/>
   </g>
   <g id="patch_3">
    <path d="M 47.8800 390.6000 L 47.8800 75.9600" style="fill: none; stroke: #000000; stroke-width: 0.8; stroke-linejoin: miter; stroke-linecap: square"/>
   </g>
   <g id="patch_4">
    <path d="M 47.8800 390.6000 L 357.4800 390.6000" style="fill: none; stroke: #000000; stroke-width: 0.8; stroke-linejoin: miter; stroke-linecap: square"/>
   </g>
   <g id="PathCollection_1">
    <defs>
     <path id="C0_0_26d2f91854" d="M 0 3 C 0.795609 3 1.55874 2.683901 2.12132 2.12132 C 2.683901 1.55874 3 0.795609 3 -0 C 3 -0.795609 2.683901 -1.55874 2.12132 -2.12132 C 1.55874 -2.683901 0.795609 -3 0 -3 C -0.795609 -3 -1.55874 -2.683901 -2.12132 -2.12132 C -2.683901 -1.55874 -3 -0.795609 -3 0 C -3 0.795609 -2.683901 1.55874 -2.12132 2.12132 C -1.55874 2.683901 -0.795609 3 0 3 z
"/>
    </defs>
    <g clip-path="url(#p753433474e)">
     <use href="#C0_0_26d2f91854" x="119.88" y="111.208193" style="fill: #440154; stroke: #ffffff; stroke-width: 0.48"/>
    </g>
    <g clip-path="url(#p753433474e)">
     <use href="#C0_0_26d2f91854" x="121.32" y="111.208193" style="fill: #440154; stroke: #ffffff; stroke-width: 0.48"/>
    </g>
    <g clip-path="url(#p753433474e)">
     <use href="#C0_0_26d2f91854" x="122.76" y="111.208193" style="fill: #440154; stroke: #ffffff; stroke-width: 0.48"/>
    </g>
    <g clip-path="url(#p753433474e)">
     <use href="#C0_0_26d2f91854" x="123.48" y="111.208193" style="fill: #440154; stroke: #ffffff; stroke-width: 0.48"/>
    </g>
    <g clip-path="url(#p753433474e)">
     <use href="#C0_0_26d2f91854" x="125.64" y="111.208193" style="fill: #440154; stroke: #ffffff; stroke-width: 0.48"/>
    </g>
    <g clip-path="url(#p753433474e)">
     <use href="#C0_0_26d2f91854" x="127.08" y="111.208193" style="fill: #440154; stroke: #ffffff; stroke-width: 0.48"/>
    </g>
    <g clip-path="url(#p753433474e)">
     <use href="#C0_0_26d2f91854" x="128.52" y="111.208193" style="fill: #440154; stroke: #ffffff; stroke-width: 0.48"/>
    </g>
    <g clip-path="url(#p753433474e)">
     <use href="#C0_0_26d2f91854" x="132.84" y="111.208193" style="fill: #440154; stroke: #ffffff; stroke-width: 0.48"/>
    </g>
    <g clip-path="url(#p753433474e)">
     <use href="#C0_0_26d2f91854" x="170.28" y="111.208193" style="fill: #fde725; stroke: #ffffff; stroke-width: 0.48"/>
    </g>
    <g clip-path="url(#p753433474e)">
     <use href="#C0_0_26d2f91854" x="149.4" y="111.208193" style="fill: #fde725; stroke: #ffffff; stroke-width: 0.48"/>
    </g>
    <g clip-path="url(#p753433474e)">
     <use href="#C0_0_26d2f91854" x="178.2" y="111.208193" style="fill: #fde725; stroke: #ffffff; stroke-width: 0.48"/>
    </g>
    <g clip-path="url(#p753433474e)">
     <use href="#C0_0_26d2f91854" x="145.8" y="111.208193" style="fill: #fde725; stroke: #ffffff; stroke-width: 0.48"/>
    </g>
    <g clip-path="url(#p753433474e)">
     <use href="#C0_0_26d2f91854" x="163.08" y="111.208193" style="fill: #fde725; stroke: #ffffff; stroke-width: 0.48"/>
    </g>
    <g clip-path="url(#p753433474e)">
     <use href="#C0_0_26d2f91854" x="153" y="111.208193" style="fill: #fde725; stroke: #ffffff; stroke-width: 0.48"/>
    </g>
    <g clip-path="url(#p753433474e)">
     <use href="#C0_0_26d2f91854" x="140.76" y="111.208193" style="fill: #fde725; stroke: #ffffff; stroke-width: 0.48"/>
    </g>
    <g clip-path="url(#p753433474e)">
     <use href="#C0_0_26d2f91854" x="156.6" y="111.208193" style="fill: #fde725; stroke: #ffffff; stroke-width: 0.48"/>
    </g>
    <g clip-path="url(#p753433474e)">
     <use href="#C0_0_26d2f91854" x="145.08" y="111.208193" style="fill: #fde725; stroke: #ffffff; stroke-width: 0.48"/>
    </g>
    <g clip-path="url(#p753433474e)">
     <use href="#C0_0_26d2f91854" x="160.2" y="111.208193" style="fill: #fde725; stroke: #ffffff; stroke-width: 0.48"/>
    </g>
    <g clip-path="url(#p753433474e)">
     <use href="#C0_0_26d2f91854" x="154.44" y="111.208193" style="fill: #fde725; stroke: #ffffff; stroke-width: 0.48"/>
    </g>
    <g clip-path="url(#p753433474e)">
     <use href="#C0_0_26d2f91854" x="158.76" y="111.208193" style="fill: #fde725; stroke: #ffffff; stroke-width: 0.48"/>
    </g>
    <g clip-path="url(#p753433474e)">
     <use href="#C0_0_26d2f91854" x="168.12" y="111.208193" style="fill: #fde725; stroke: #ffffff; stroke-width: 0.48"/>
    </g>
    <g clip-path="url(#p753433474e)">
     <use href="#C0_0_26d2f91854" x="139.32" y="111.208193" style="fill: #fde725; stroke: #ffffff; stroke-width: 0.48"/>
    </g>
    <g clip-path="url(#p753433474e)">
     <use href="#C0_0_26d2f91854" x="161.64" y="111.208193" style="fill: #fde725; stroke: #ffffff; stroke-width: 0.48"/>
    </g>
    <g clip-path="url(#p753433474e)">
     <use href="#C0_0_26d2f91854" x="142.92" y="111.208193" style="fill: #fde725; stroke: #ffffff; stroke-width: 0.48"/>
    </g>
    <g clip-path="url(#p753433474e)">
     <use href="#C0_0_26d2f91854" x="173.88" y="111.208193" style="fill: #fde725; stroke: #ffffff; stroke-width: 0.48"/>
    </g>
    <g clip-path="url(#p753433474e)">
     <use href="#C0_0_26d2f91854" x="175.32" y="111.208193" style="fill: #fde725; stroke: #ffffff; stroke-width: 0.48"/>
    </g>
    <g clip-path="url(#p753433474e)">
     <use href="#C0_0_26d2f91854" x="158.04" y="111.208193" style="fill: #fde725; stroke: #ffffff; stroke-width: 0.48"/>
    </g>
    <g clip-path="url(#p753433474e)">
     <use href="#C0_0_26d2f91854" x="179.64" y="111.208193" style="fill: #fde725; stroke: #ffffff; stroke-width: 0.48"/>
    </g>
    <g clip-path="url(#p753433474e)">
     <use href="#C0_0_26d2f91854" x="168.84" y="111.208193" style="fill: #fde725; stroke: #ffffff; stroke-width: 0.48"/>
    </g>
    <g clip-path="url(#p753433474e)">
     <use href="#C0_0_26d2f91854" x="147.96" y="111.208193" style="fill: #fde725; stroke: #ffffff; stroke-width: 0.48"/>
    </g>
    <g clip-path="url(#p753433474e)">
     <use href="#C0_0_26d2f91854" x="147.24" y="111.208193" style="fill: #fde725; stroke: #ffffff; stroke-width: 0.48"/>
    </g>
    <g clip-path="url(#p753433474e)">
     <use href="#C0_0_26d2f91854" x="172.44" y="111.208193" style="fill: #fde725; stroke: #ffffff; stroke-width: 0.48"/>
    </g>
    <g clip-path="url(#p753433474e)">
     <use href="#C0_0_26d2f91854" x="144.36" y="111.208193" style="fill: #fde725; stroke: #ffffff; stroke-width: 0.48"/>
    </g>
    <g clip-path="url(#p753433474e)">
     <use href="#C0_0_26d2f91854" x="155.88" y="111.208193" style="fill: #fde725; stroke: #ffffff; stroke-width: 0.48"/>
    </g>
    <g clip-path="url(#p753433474e)">
     <use href="#C0_0_26d2f91854" x="141.48" y="111.208193" style="fill: #fde725; stroke: #ffffff; stroke-width: 0.48"/>
    </g>
    <g clip-path="url(#p753433474e)">
     <use href="#C0_0_26d2f91854" x="178.92" y="111.208193" style="fill: #fde725; stroke: #ffffff; stroke-width: 0.48"/>
    </g>
    <g clip-path="url(#p753433474e)">
     <use href="#C0_0_26d2f91854" x="171" y="111.208193" style="fill: #fde725; stroke: #ffffff; stroke-width: 0.48"/>
    </g>
    <g clip-path="url(#p753433474e)">
     <use href="#C0_0_26d2f91854" x="160.92" y="111.208193" style="fill: #fde725; stroke: #ffffff; stroke-width: 0.48"/>
    </g>
    <g clip-path="url(#p753433474e)">
     <use href="#C0_0_26d2f91854" x="171.72" y="111.208193" style="fill: #fde725; stroke: #ffffff; stroke-width: 0.48"/>
    </g>
    <g clip-path="url(#p753433474e)">
     <use href="#C0_0_26d2f91854" x="176.04" y="111.208193" style="fill: #fde725; stroke: #ffffff; stroke-width: 0.48"/>
    </g>
    <g clip-path="url(#p753433474e)">
     <use href="#C0_0_26d2f91854" x="140.04" y="111.208193" style="fill: #fde725; stroke: #ffffff; stroke-width: 0.48"/>
    </g>
    <g clip-path="url(#p753433474e)">
     <use href="#C0_0_26d2f91854" x="169.56" y="111.208193" style="fill: #fde725; stroke: #ffffff; stroke-width: 0.48"/>
    </g>
    <g clip-path="url(#p753433474e)">
     <use href="#C0_0_26d2f91854" x="137.16" y="111.208193" style="fill: #fde725; stroke: #ffffff; stroke-width: 0.48"/>
    </g>
    <g clip-path="url(#p753433474e)">
     <use href="#C0_0_26d2f91854" x="162.36" y="111.208193" style="fill: #fde725; stroke: #ffffff; stroke-width: 0.48"/>
    </g>
    <g clip-path="url(#p753433474e)">
     <use href="#C0_0_26d2f91854" x="137.88" y="111.208193" style="fill: #fde725; stroke: #ffffff; stroke-width: 0.48"/>
    </g>
    <g clip-path="url(#p753433474e)">
     <use href="#C0_0_26d2f91854" x="152.28" y="111.208193" style="fill: #fde725; stroke: #ffffff; stroke-width: 0.48"/>
    </g>
    <g clip-path="url(#p753433474e)">
     <use href="#C0_0_26d2f91854" x="165.24" y="111.208193" style="fill: #fde725; stroke: #ffffff; stroke-width: 0.48"/>
    </g>
    <g clip-path="url(#p753433474e)">
     <use href="#C0_0_26d2f91854" x="148.68" y="111.208193" style="fill: #fde725; stroke: #ffffff; stroke-width: 0.48"/>
    </g>
    <g clip-path="url(#p753433474e)">
     <use href="#C0_0_26d2f91854" x="155.16" y="111.208193" style="fill: #fde725; stroke: #ffffff; stroke-width: 0.48"/>
    </g>
    <g clip-path="url(#p753433474e)">
     <use href="#C0_0_26d2f91854" x="146.52" y="111.208193" style="fill: #fde725; stroke: #ffffff; stroke-width: 0.48"/>
    </g>
    <g clip-path="url(#p753433474e)">
     <use href="#C0_0_26d2f91854" x="164.52" y="111.208193" style="fill: #fde725; stroke: #ffffff; stroke-width: 0.48"/>
    </g>
    <g clip-path="url(#p753433474e)">
     <use href="#C0_0_26d2f91854" x="157.32" y="111.208193" style="fill: #fde725; stroke: #ffffff; stroke-width: 0.48"/>
    </g>
    <g clip-path="url(#p753433474e)">
     <use href="#C0_0_26d2f91854" x="150.84" y="111.208193" style="fill: #fde725; stroke: #ffffff; stroke-width: 0.48"/>
    </g>
    <g clip-path="url(#p753433474e)">
     <use href="#C0_0_26d2f91854" x="159.48" y="111.208193" style="fill: #fde725; stroke: #ffffff; stroke-width: 0.48"/>
    </g>
    <g clip-path="url(#p753433474e)">
     <use href="#C0_0_26d2f91854" x="163.8" y="111.208193" style="fill: #fde725; stroke: #ffffff; stroke-width: 0.48"/>
    </g>
    <g clip-path="url(#p753433474e)">
     <use href="#C0_0_26d2f91854" x="174.6" y="111.208193" style="fill: #fde725; stroke: #ffffff; stroke-width: 0.48"/>
    </g>
    <g clip-path="url(#p753433474e)">
     <use href="#C0_0_26d2f91854" x="173.16" y="111.208193" style="fill: #fde725; stroke: #ffffff; stroke-width: 0.48"/>
    </g>
    <g clip-path="url(#p753433474e)">
     <use href="#C0_0_26d2f91854" x="165.96" y="111.208193" style="fill: #fde725; stroke: #ffffff; stroke-width: 0.48"/>
    </g>
    <g clip-path="url(#p753433474e)">
     <use href="#C0_0_26d2f91854" x="167.4" y="111.208193" style="fill: #fde725; stroke: #ffffff; stroke-width: 0.48"/>
    </g>
    <g clip-path="url(#p753433474e)">
     <use href="#C0_0_26d2f91854" x="143.64" y="111.208193" style="fill: #fde725; stroke: #ffffff; stroke-width: 0.48"/>
    </g>
    <g clip-path="url(#p753433474e)">
     <use href="#C0_0_26d2f91854" x="150.12" y="111.208193" style="fill: #fde725; stroke: #ffffff; stroke-width: 0.48"/>
    </g>
    <g clip-path="url(#p753433474e)">
     <use href="#C0_0_26d2f91854" x="151.56" y="111.208193" style="fill: #fde725; stroke: #ffffff; stroke-width: 0.48"/>
    </g>
    <g clip-path="url(#p753433474e)">
     <use href="#C0_0_26d2f91854" x="136.44" y="111.208193" style="fill: #fde725; stroke: #ffffff; stroke-width: 0.48"/>
    </g>
    <g clip-path="url(#p753433474e)">
     <use href="#C0_0_26d2f91854" x="142.2" y="111.208193" style="fill: #fde725; stroke: #ffffff; stroke-width: 0.48"/>
    </g>
    <g clip-path="url(#p753433474e)">
     <use href="#C0_0_26d2f91854" x="176.76" y="111.208193" style="fill: #fde725; stroke: #ffffff; stroke-width: 0.48"/>
    </g>
    <g clip-path="url(#p753433474e)">
     <use href="#C0_0_26d2f91854" x="138.6" y="111.208193" style="fill: #fde725; stroke: #ffffff; stroke-width: 0.48"/>
    </g>
    <g clip-path="url(#p753433474e)">
     <use href="#C0_0_26d2f91854" x="177.48" y="111.208193" style="fill: #fde725; stroke: #ffffff; stroke-width: 0.48"/>
    </g>
    <g clip-path="url(#p753433474e)">
     <use href="#C0_0_26d2f91854" x="153.72" y="111.208193" style="fill: #fde725; stroke: #ffffff; stroke-width: 0.48"/>
    </g>
    <g clip-path="url(#p753433474e)">
     <use href="#C0_0_26d2f91854" x="166.68" y="111.208193" style="fill: #fde725; stroke: #ffffff; stroke-width: 0.48"/>
    </g>
    <g clip-path="url(#p753433474e)">
     <use href="#C0_0_26d2f91854" x="147.24" y="111.208193" style="fill: #fde725; stroke: #ffffff; stroke-width: 0.48"/>
    </g>
    <g clip-path="url(#p753433474e)">
     <use href="#C0_0_26d2f91854" x="142.92" y="111.208193" style="fill: #fde725; stroke: #ffffff; stroke-width: 0.48"/>
    </g>
    <g clip-path="url(#p753433474e)">
     <use href="#C0_0_26d2f91854" x="136.44" y="111.208193" style="fill: #fde725; stroke: #ffffff; stroke-width: 0.48"/>
    </g>
    <g clip-path="url(#p753433474e)">
     <use href="#C0_0_26d2f91854" x="137.88" y="111.208193" style="fill: #fde725; stroke: #ffffff; stroke-width: 0.48"/>
    </g>
    <g clip-path="url(#p753433474e)">
     <use href="#C0_0_26d2f91854" x="129.96" y="111.208193" style="fill: #fde725; stroke: #ffffff; stroke-width: 0.48"/>
    </g>
    <g clip-path="url(#p753433474e)">
     <use href="#C0_0_26d2f91854" x="139.32" y="111.208193" style="fill: #fde725; stroke: #ffffff; stroke-width: 0.48"/>
    </g>
    <g clip-path="url(#p753433474e)">
     <use href="#C0_0_26d2f91854" x="175.32" y="111.208193" style="fill: #fde725; stroke: #ffffff; stroke-width: 0.48"/>
    </g>
    <g clip-path="url(#p753433474e)">
     <use href="#C0_0_26d2f91854" x="173.88" y="111.208193" style="fill: #fde725; stroke: #ffffff; stroke-width: 0.48"/>
    </g>
    <g clip-path="url(#p753433474e)">
     <use href="#C0_0_26d2f91854" x="172.44" y="111.208193" style="fill: #fde725; stroke: #ffffff; stroke-width: 0.48"/>
    </g>
    <g clip-path="url(#p753433474e)">
     <use href="#C0_0_26d2f91854" x="170.28" y="111.208193" style="fill: #fde725; stroke: #ffffff; stroke-width: 0.48"/>
    </g>
    <g clip-path="url(#p753433474e)">
     <use href="#C0_0_26d2f91854" x="168.84" y="111.208193" style="fill: #fde725; stroke: #ffffff; stroke-width: 0.48"/>
    </g>
    <g clip-path="url(#p753433474e)">
     <use href="#C0_0_26d2f91854" x="166.68" y="111.208193" style="fill: #fde725; stroke: #ffffff; stroke-width: 0.48"/>
    </g>
    <g clip-path="url(#p753433474e)">
     <use href="#C0_0_26d2f91854" x="165.24" y="111.208193" style="fill: #fde725; stroke: #ffffff; stroke-width: 0.48"/>
    </g>
    <g clip-path="url(#p753433474e)">
     <use href="#C0_0_26d2f91854" x="160.2" y="111.208193" style="fill: #fde725; stroke: #ffffff; stroke-width: 0.48"/>
    </g>
    <g clip-path="url(#p753433474e)">
     <use href="#C0_0_26d2f91854" x="162.36" y="111.208193" style="fill: #fde725; stroke: #ffffff; stroke-width: 0.48"/>
    </g>
    <g clip-path="url(#p753433474e)">
     <use href="#C0_0_26d2f91854" x="153.72" y="111.208193" style="fill: #fde725; stroke: #ffffff; stroke-width: 0.48"/>
    </g>
    <g clip-path="url(#p753433474e)">
     <use href="#C0_0_26d2f91854" x="182.52" y="111.208193" style="fill: #fde725; stroke: #ffffff; stroke-width: 0.48"/>
    </g>
    <g clip-path="url(#p753433474e)">
     <use href="#C0_0_26d2f91854" x="189" y="111.208193" style="fill: #440154; stroke: #ffffff; stroke-width: 0.48"/>
    </g>
    <g clip-path="url(#p753433474e)">
     <use href="#C0_0_26d2f91854" x="184.68" y="111.208193" style="fill: #440154; stroke: #ffffff; stroke-width: 0.48"/>
    </g>
    <g clip-path="url(#p753433474e)">
     <use href="#C0_0_26d2f91854" x="197.64" y="111.208193" style="fill: #440154; stroke: #ffffff; stroke-width: 0.48"/>
    </g>
    <g clip-path="url(#p753433474e)">
     <use href="#C0_0_26d2f91854" x="193.32" y="111.208193" style="fill: #fde725; stroke: #ffffff; stroke-width: 0.48"/>
    </g>
    <g clip-path="url(#p753433474e)">
     <use href="#C0_0_26d2f91854" x="204.12" y="111.208193" style="fill: #440154; stroke: #ffffff; stroke-width: 0.48"/>
    </g>
    <g clip-path="url(#p753433474e)">
     <use href="#C0_0_26d2f91854" x="214.92" y="111.208193" style="fill: #fde725; stroke: #ffffff; stroke-width: 0.48"/>
    </g>
    <g clip-path="url(#p753433474e)">
     <use href="#C0_0_26d2f91854" x="213.48" y="111.208193" style="fill: #fde725; stroke: #ffffff; stroke-width: 0.48"/>
    </g>
    <g clip-path="url(#p753433474e)">
     <use href="#C0_0_26d2f91854" x="212.04" y="111.208193" style="fill: #fde725; stroke: #ffffff; stroke-width: 0.48"/>
    </g>
    <g clip-path="url(#p753433474e)">
     <use href="#C0_0_26d2f91854" x="209.88" y="111.208193" style="fill: #fde725; stroke: #ffffff; stroke-width: 0.48"/>
    </g>
    <g clip-path="url(#p753433474e)">
     <use href="#C0_0_26d2f91854" x="205.56" y="111.208193" style="fill: #440154; stroke: #ffffff; stroke-width: 0.48"/>
    </g>
    <g clip-path="url(#p753433474e)">
     <use href="#C0_0_26d2f91854" x="222.12" y="111.208193" style="fill: #440154; stroke: #ffffff; stroke-width: 0.48"/>
    </g>
    <g clip-path="url(#p753433474e)">
     <use href="#C0_0_26d2f91854" x="227.88" y="111.208193" style="fill: #440154; stroke: #ffffff; stroke-width: 0.48"/>
    </g>
    <g clip-path="url(#p753433474e)">
     <use href="#C0_0_26d2f91854" x="223.56" y="111.208193" style="fill: #fde725; stroke: #ffffff; stroke-width: 0.48"/>
    </g>
    <g clip-path="url(#p753433474e)">
     <use href="#C0_0_26d2f91854" x="235.08" y="111.208193" style="fill: #440154; stroke: #ffffff; stroke-width: 0.48"/>
    </g>
    <g clip-path="url(#p753433474e)">
     <use href="#C0_0_26d2f91854" x="237.96" y="111.208193" style="fill: #440154; stroke: #ffffff; stroke-width: 0.48"/>
    </g>
    <g clip-path="url(#p753433474e)">
     <use href="#C0_0_26d2f91854" x="245.16" y="111.208193" style="fill: #440154; stroke: #ffffff; stroke-width: 0.48"/>
    </g>
    <g clip-path="url(#p753433474e)">
     <use href="#C0_0_26d2f91854" x="250.92" y="111.208193" style="fill: #440154; stroke: #ffffff; stroke-width: 0.48"/>
    </g>
    <g clip-path="url(#p753433474e)">
     <use href="#C0_0_26d2f91854" x="257.4" y="111.208193" style="fill: #440154; stroke: #ffffff; stroke-width: 0.48"/>
    </g>
    <g clip-path="url(#p753433474e)">
     <use href="#C0_0_26d2f91854" x="274.68" y="111.208193" style="fill: #440154; stroke: #ffffff; stroke-width: 0.48"/>
    </g>
    <g clip-path="url(#p753433474e)">
     <use href="#C0_0_26d2f91854" x="284.76" y="111.208193" style="fill: #440154; stroke: #ffffff; stroke-width: 0.48"/>
    </g>
    <g clip-path="url(#p753433474e)">
     <use href="#C0_0_26d2f91854" x="284.04" y="111.208193" style="fill: #440154; stroke: #ffffff; stroke-width: 0.48"/>
    </g>
    <g clip-path="url(#p753433474e)">
     <use href="#C0_0_26d2f91854" x="282.6" y="111.208193" style="fill: #440154; stroke: #ffffff; stroke-width: 0.48"/>
    </g>
    <g clip-path="url(#p753433474e)">
     <use href="#C0_0_26d2f91854" x="281.88" y="111.208193" style="fill: #440154; stroke: #ffffff; stroke-width: 0.48"/>
    </g>
   </g>
   <g id="PathCollection_2">
    <defs>
     <path id="C1_0_eb2aa00d58" d="M 0 3 C 0.795609 3 1.55874 2.683901 2.12132 2.12132 C 2.683901 1.55874 3 0.795609 3 -0 C 3 -0.795609 2.683901 -1.55874 2.12132 -2.12132 C 1.55874 -2.683901 0.795609 -3 0 -3 C -0.795609 -3 -1.55874 -2.683901 -2.12132 -2.12132 C -2.683901 -1.55874 -3 -0.795609 -3 0 C -3 0.795609 -2.683901 1.55874 -2.12132 2.12132 C -1.55874 2.683901 -0.795609 3 0 3 z
"/>
    </defs>
    <g clip-path="url(#p753433474e)">
     <use href="#C1_0_eb2aa00d58" x="126.288" y="153.936" style="fill: #440154; stroke: #ffffff; stroke-width: 0.48"/>
    </g>
    <g clip-path="url(#p753433474e)">
     <use href="#C1_0_eb2aa00d58" x="122.616" y="187.488" style="fill: #440154; stroke: #ffffff; stroke-width: 0.48"/>
    </g>
    <g clip-path="url(#p753433474e)">
     <use href="#C1_0_eb2aa00d58" x="139.248" y="354.644379" style="fill: #440154; stroke: #ffffff; stroke-width: 0.48"/>
    </g>
   </g>
   <g id="legend_1">
    <g id="patch_5">
     <path d="M 302.902214 129.052571 L 350.192214 129.052571 Q 352.192214 129.052571 352.192214 127.052571 L 352.192214 82.812571 Q 352.192214 80.812571 350.192214 80.812571 L 302.902214 80.812571 Q 300.902214 80.812571 300.902214 82.812571 L 300.902214 127.052571 Q 300.902214 129.052571 302.902214 129.052571 z
" style="fill: #ffffff; opacity: 0.8; stroke: #cccccc; stroke-linejoin: miter"/>
    </g>
    <g id="text_16">
     <text style="font-size: 10px; font-family: 'DejaVu Sans', 'Liberation Sans', sans-serif; text-anchor: start" x="304.7011" y="92.9520">anomaly</text>
    </g>
    <g id="line2d_15">
     <path d="M 307.597214 104.312571 L 317.597214 104.312571 L 327.597214 104.312571 
" style="fill: none; stroke: #440154; stroke-width: 1.5; stroke-linecap: square"/>
    </g>
    <g id="text_17">
     <text style="font-size: 10px; font-family: 'DejaVu Sans', 'Liberation Sans', sans-serif; text-anchor: start" x="335.6309" y="108.0720">-1</text>
    </g>
    <g id="line2d_16">
     <path d="M 307.597214 119.392571 L 317.597214 119.392571 L 327.597214 119.392571 
" style="fill: none; stroke: #fde725; stroke-width: 1.5; stroke-linecap: square"/>
    </g>
    <g id="text_18">
     <text style="font-size: 10px; font-family: 'DejaVu Sans', 'Liberation Sans', sans-serif; text-anchor: start" x="336.2644" y="123.1920">1</text>
    </g>
   </g>
  </g>
  <g id="axes_2">
   <g id="patch_6">
    <path d="M 47.82125 64.977143 L 357.192214 64.977143 L 357.192214 10.8 L 47.82125 10.8 z
" style="fill: #ffffff"/>
   </g>
   <g id="FillBetweenPolyCollection_1">
    <defs>
     <path id="m092bf23fc3" d="M 120.00165 -367.046544 L 120.00165 -367.022857 L 120.563644 -367.022857 L 121.125639 -367.022857 L 121.687633 -367.022857 L 122.249627 -367.022857 L 122.811622 -367.022857 L 123.373616 -367.022857 L 123.935611 -367.022857 L 124.497605 -367.022857 L 125.0596 -367.022857 L 125.621594 -367.022857 L 126.183588 -367.022857 L 126.745583 -367.022857 L 127.307577 -367.022857 L 127.869572 -367.022857 L 128.431566 -367.022857 L 128.993561 -367.022857 L 129.555555 -367.022857 L 130.117549 -367.022857 L 130.679544 -367.022857 L 131.241538 -367.022857 L 131.803533 -367.022857 L 132.365527 -367.022857 L 132.927522 -367.022857 L 133.489516 -367.022857 L 134.05151 -367.022857 L 134.613505 -367.022857 L 135.175499 -367.022857 L 135.737494 -367.022857 L 136.299488 -367.022857 L 136.861483 -367.022857 L 137.423477 -367.022857 L 137.985471 -367.022857 L 138.547466 -367.022857 L 139.10946 -367.022857 L 139.671455 -367.022857 L 140.233449 -367.022857 L 140.795444 -367.022857 L 141.357438 -367.022857 L 141.919432 -367.022857 L 142.481427 -367.022857 L 143.043421 -367.022857 L 143.605416 -367.022857 L 144.16741 -367.022857 L 144.729405 -367.022857 L 145.291399 -367.022857 L 145.853393 -367.022857 L 146.415388 -367.022857 L 146.977382 -367.022857 L 147.539377 -367.022857 L 148.101371 -367.022857 L 148.663366 -367.022857 L 149.22536 -367.022857 L 149.787354 -367.022857 L 150.349349 -367.022857 L 150.911343 -367.022857 L 151.473338 -367.022857 L 152.035332 -367.022857 L 152.597327 -367.022857 L 153.159321 -367.022857 L 153.721315 -367.022857 L 154.28331 -367.022857 L 154.845304 -367.022857 L 155.407299 -367.022857 L 155.969293 -367.022857 L 156.531288 -367.022857 L 157.093282 -367.022857 L 157.655276 -367.022857 L 158.217271 -367.022857 L 158.779265 -367.022857 L 159.34126 -367.022857 L 159.903254 -367.022857 L 160.465249 -367.022857 L 161.027243 -367.022857 L 161.589237 -367.022857 L 162.151232 -367.022857 L 162.713226 -367.022857 L 163.275221 -367.022857 L 163.837215 -367.022857 L 164.39921 -367.022857 L 164.961204 -367.022857 L 165.523198 -367.022857 L 166.085193 -367.022857 L 166.647187 -367.022857 L 167.209182 -367.022857 L 167.771176 -367.022857 L 168.333171 -367.022857 L 168.895165 -367.022857 L 169.457159 -367.022857 L 170.019154 -367.022857 L 170.581148 -367.022857 L 171.143143 -367.022857 L 171.705137 -367.022857 L 172.267132 -367.022857 L 172.829126 -367.022857 L 173.39112 -367.022857 L 173.953115 -367.022857 L 174.515109 -367.022857 L 175.077104 -367.022857 L 175.639098 -367.022857 L 176.201093 -367.022857 L 176.763087 -367.022857 L 177.325081 -367.022857 L 177.887076 -367.022857 L 178.44907 -367.022857 L 179.011065 -367.022857 L 179.573059 -367.022857 L 180.135054 -367.022857 L 180.697048 -367.022857 L 181.259042 -367.022857 L 181.821037 -367.022857 L 182.383031 -367.022857 L 182.945026 -367.022857 L 183.50702 -367.022857 L 184.069015 -367.022857 L 184.631009 -367.022857 L 185.193003 -367.022857 L 185.754998 -367.022857 L 186.316992 -367.022857 L 186.878987 -367.022857 L 187.440981 -367.022857 L 188.002976 -367.022857 L 188.56497 -367.022857 L 189.126964 -367.022857 L 189.688959 -367.022857 L 190.250953 -367.022857 L 190.812948 -367.022857 L 191.374942 -367.022857 L 191.936937 -367.022857 L 192.498931 -367.022857 L 193.060925 -367.022857 L 193.62292 -367.022857 L 194.184914 -367.022857 L 194.746909 -367.022857 L 195.308903 -367.022857 L 195.870898 -367.022857 L 196.432892 -367.022857 L 196.994886 -367.022857 L 197.556881 -367.022857 L 198.118875 -367.022857 L 198.68087 -367.022857 L 199.242864 -367.022857 L 199.804859 -367.022857 L 200.366853 -367.022857 L 200.928847 -367.022857 L 201.490842 -367.022857 L 202.052836 -367.022857 L 202.614831 -367.022857 L 203.176825 -367.022857 L 203.73882 -367.022857 L 204.300814 -367.022857 L 204.862809 -367.022857 L 205.424803 -367.022857 L 205.986797 -367.022857 L 206.548792 -367.022857 L 207.110786 -367.022857 L 207.672781 -367.022857 L 208.234775 -367.022857 L 208.79677 -367.022857 L 209.358764 -367.022857 L 209.920758 -367.022857 L 210.482753 -367.022857 L 211.044747 -367.022857 L 211.606742 -367.022857 L 212.168736 -367.022857 L 212.730731 -367.022857 L 213.292725 -367.022857 L 213.854719 -367.022857 L 214.416714 -367.022857 L 214.978708 -367.022857 L 215.540703 -367.022857 L 216.102697 -367.022857 L 216.664692 -367.022857 L 217.226686 -367.022857 L 217.78868 -367.022857 L 218.350675 -367.022857 L 218.912669 -367.022857 L 219.474664 -367.022857 L 220.036658 -367.022857 L 220.598653 -367.022857 L 221.160647 -367.022857 L 221.722641 -367.022857 L 222.284636 -367.022857 L 222.84663 -367.022857 L 223.408625 -367.022857 L 223.970619 -367.022857 L 224.532614 -367.022857 L 225.094608 -367.022857 L 225.656602 -367.022857 L 226.218597 -367.022857 L 226.780591 -367.022857 L 227.342586 -367.022857 L 227.90458 -367.022857 L 228.466575 -367.022857 L 229.028569 -367.022857 L 229.590563 -367.022857 L 230.152558 -367.022857 L 230.714552 -367.022857 L 231.276547 -367.022857 L 231.838541 -367.022857 L 231.838541 -367.023739 L 231.838541 -367.023739 L 231.276547 -367.0244 L 230.714552 -367.025457 L 230.152558 -367.027079 L 229.590563 -367.029465 L 229.028569 -367.032822 L 228.466575 -367.037338 L 227.90458 -367.043135 L 227.342586 -367.05022 L 226.780591 -367.058438 L 226.218597 -367.067444 L 225.656602 -367.076704 L 225.094608 -367.085538 L 224.532614 -367.093203 L 223.970619 -367.099005 L 223.408625 -367.102426 L 222.84663 -367.103233 L 222.284636 -367.101554 L 221.722641 -367.097895 L 221.160647 -367.093102 L 220.598653 -367.088274 L 220.036658 -367.084637 L 219.474664 -367.083407 L 218.912669 -367.085661 L 218.350675 -367.092214 L 217.78868 -367.10353 L 217.226686 -367.119654 L 216.664692 -367.140177 L 216.102697 -367.164238 L 215.540703 -367.190561 L 214.978708 -367.21754 L 214.416714 -367.243364 L 213.854719 -367.26617 L 213.292725 -367.284226 L 212.730731 -367.296098 L 212.168736 -367.300806 L 211.606742 -367.297925 L 211.044747 -367.287638 L 210.482753 -367.27071 L 209.920758 -367.248403 L 209.358764 -367.222333 L 208.79677 -367.194299 L 208.234775 -367.166109 L 207.672781 -367.139435 L 207.110786 -367.115739 L 206.548792 -367.096258 L 205.986797 -367.082092 L 205.424803 -367.074341 L 204.862809 -367.074288 L 204.300814 -367.083566 L 203.73882 -367.104252 L 203.176825 -367.138833 L 202.614831 -367.189999 L 202.052836 -367.260262 L 201.490842 -367.351426 L 200.928847 -367.464022 L 200.366853 -367.596826 L 199.804859 -367.746633 L 199.242864 -367.908379 L 198.68087 -368.075662 L 198.118875 -368.241557 L 197.556881 -368.399543 L 196.994886 -368.544287 L 196.432892 -368.672069 L 195.870898 -368.780756 L 195.308903 -368.869371 L 194.746909 -368.937471 L 194.184914 -368.98459 L 193.62292 -369.009984 L 193.060925 -369.012747 L 192.498931 -368.992228 L 191.936937 -368.948559 L 191.374942 -368.883054 L 190.812948 -368.798364 L 190.250953 -368.698358 L 189.688959 -368.587874 L 189.126964 -368.472494 L 188.56497 -368.358465 L 188.002976 -368.252783 L 187.440981 -368.16332 L 186.878987 -368.098789 L 186.316992 -368.0684 L 185.754998 -368.081117 L 185.193003 -368.144596 L 184.631009 -368.264043 L 184.069015 -368.441263 L 183.50702 -368.674208 L 182.945026 -368.95717 L 182.383031 -369.281624 L 181.821037 -369.637544 L 181.259042 -370.014858 L 180.697048 -370.404668 L 180.135054 -370.799935 L 179.573059 -371.195472 L 179.011065 -371.587301 L 178.44907 -371.971666 L 177.887076 -372.344103 L 177.325081 -372.698999 L 176.763087 -373.029936 L 176.201093 -373.330822 L 175.639098 -373.597518 L 175.077104 -373.829364 L 174.515109 -374.029975 L 173.953115 -374.206836 L 173.39112 -374.369677 L 172.829126 -374.528115 L 172.267132 -374.689447 L 171.705137 -374.857507 L 171.143143 -375.033165 L 170.581148 -375.216311 L 170.019154 -375.408495 L 169.457159 -375.61496 L 168.895165 -375.844957 L 168.333171 -376.109921 L 167.771176 -376.420046 L 167.209182 -376.780614 L 166.647187 -377.189693 L 166.085193 -377.638346 L 165.523198 -378.113435 L 164.961204 -378.601955 L 164.39921 -379.095074 L 163.837215 -379.590106 L 163.275221 -380.089527 L 162.713226 -380.597482 L 162.151232 -381.115405 L 161.589237 -381.638861 L 161.027243 -382.157188 L 160.465249 -382.656306 L 159.903254 -383.123568 L 159.34126 -383.552664 L 158.779265 -383.946567 L 158.217271 -384.317495 L 157.655276 -384.684301 L 157.093282 -385.068795 L 156.531288 -385.492853 L 155.969293 -385.977409 L 155.407299 -386.543172 L 154.845304 -387.211699 L 154.28331 -388.005113 L 153.721315 -388.943455 L 153.159321 -390.040083 L 152.597327 -391.296962 L 152.035332 -392.702179 L 151.473338 -394.231406 L 150.911343 -395.853289 L 150.349349 -397.536948 L 149.787354 -399.258677 L 149.22536 -401.005246 L 148.663366 -402.772688 L 148.101371 -404.561446 L 147.539377 -406.370118 L 146.977382 -408.190188 L 146.415388 -410.003072 L 145.853393 -411.779251 L 145.291399 -413.478219 L 144.729405 -415.048125 L 144.16741 -416.425151 L 143.605416 -417.534149 L 143.043421 -418.292723 L 142.481427 -418.620136 L 141.919432 -418.450433 L 141.357438 -417.746745 L 140.795444 -416.512354 L 140.233449 -414.794387 L 139.671455 -412.678126 L 139.10946 -410.272969 L 138.547466 -407.693776 L 137.985471 -405.042736 L 137.423477 -402.396403 L 136.861483 -399.800679 L 136.299488 -397.273956 L 135.737494 -394.816327 L 135.175499 -392.421374 L 134.613505 -390.086847 L 134.05151 -387.821305 L 133.489516 -385.645346 L 132.927522 -383.587713 L 132.365527 -381.678061 L 131.803533 -379.938987 L 131.241538 -378.379957 L 130.679544 -376.994973 L 130.117549 -375.764517 L 129.555555 -374.660953 L 128.993561 -373.655528 L 128.431566 -372.724834 L 127.869572 -371.854957 L 127.307577 -371.042501 L 126.745583 -370.292668 L 126.183588 -369.61544 L 125.621594 -369.021223 L 125.0596 -368.517212 L 124.497605 -368.105245 L 123.935611 -367.781343 L 123.373616 -367.536622 L 122.811622 -367.359022 L 122.249627 -367.235233 L 121.687633 -367.152358 L 121.125639 -367.099056 L 120.563644 -367.066113 L 120.00165 -367.046544 z
" style="stroke: #fde725"/>
    </defs>
    <g clip-path="url(#p8f64bed14b)">
     <use href="#m092bf23fc3" x="0.360" y="432.288" style="fill: #fde725; fill-opacity: 0.25; stroke: #fde725"/>
    </g>
   </g>
   <g id="FillBetweenPolyCollection_2">
    <defs>
     <path id="m2b85b7ac0e" d="M 60.491458 -367.024501 L 60.491458 -367.022857 L 61.933332 -367.022857 L 63.375206 -367.022857 L 64.81708 -367.022857 L 66.258955 -367.022857 L 67.700829 -367.022857 L 69.142703 -367.022857 L 70.584577 -367.022857 L 72.026451 -367.022857 L 73.468326 -367.022857 L 74.9102 -367.022857 L 76.352074 -367.022857 L 77.793948 -367.022857 L 79.235822 -367.022857 L 80.677697 -367.022857 L 82.119571 -367.022857 L 83.561445 -367.022857 L 85.003319 -367.022857 L 86.445194 -367.022857 L 87.887068 -367.022857 L 89.328942 -367.022857 L 90.770816 -367.022857 L 92.21269 -367.022857 L 93.654565 -367.022857 L 95.096439 -367.022857 L 96.538313 -367.022857 L 97.980187 -367.022857 L 99.422061 -367.022857 L 100.863936 -367.022857 L 102.30581 -367.022857 L 103.747684 -367.022857 L 105.189558 -367.022857 L 106.631432 -367.022857 L 108.073307 -367.022857 L 109.515181 -367.022857 L 110.957055 -367.022857 L 112.398929 -367.022857 L 113.840804 -367.022857 L 115.282678 -367.022857 L 116.724552 -367.022857 L 118.166426 -367.022857 L 119.6083 -367.022857 L 121.050175 -367.022857 L 122.492049 -367.022857 L 123.933923 -367.022857 L 125.375797 -367.022857 L 126.817671 -367.022857 L 128.259546 -367.022857 L 129.70142 -367.022857 L 131.143294 -367.022857 L 132.585168 -367.022857 L 134.027042 -367.022857 L 135.468917 -367.022857 L 136.910791 -367.022857 L 138.352665 -367.022857 L 139.794539 -367.022857 L 141.236414 -367.022857 L 142.678288 -367.022857 L 144.120162 -367.022857 L 145.562036 -367.022857 L 147.00391 -367.022857 L 148.445785 -367.022857 L 149.887659 -367.022857 L 151.329533 -367.022857 L 152.771407 -367.022857 L 154.213281 -367.022857 L 155.655156 -367.022857 L 157.09703 -367.022857 L 158.538904 -367.022857 L 159.980778 -367.022857 L 161.422653 -367.022857 L 162.864527 -367.022857 L 164.306401 -367.022857 L 165.748275 -367.022857 L 167.190149 -367.022857 L 168.632024 -367.022857 L 170.073898 -367.022857 L 171.515772 -367.022857 L 172.957646 -367.022857 L 174.39952 -367.022857 L 175.841395 -367.022857 L 177.283269 -367.022857 L 178.725143 -367.022857 L 180.167017 -367.022857 L 181.608891 -367.022857 L 183.050766 -367.022857 L 184.49264 -367.022857 L 185.934514 -367.022857 L 187.376388 -367.022857 L 188.818263 -367.022857 L 190.260137 -367.022857 L 191.702011 -367.022857 L 193.143885 -367.022857 L 194.585759 -367.022857 L 196.027634 -367.022857 L 197.469508 -367.022857 L 198.911382 -367.022857 L 200.353256 -367.022857 L 201.79513 -367.022857 L 203.237005 -367.022857 L 204.678879 -367.022857 L 206.120753 -367.022857 L 207.562627 -367.022857 L 209.004501 -367.022857 L 210.446376 -367.022857 L 211.88825 -367.022857 L 213.330124 -367.022857 L 214.771998 -367.022857 L 216.213873 -367.022857 L 217.655747 -367.022857 L 219.097621 -367.022857 L 220.539495 -367.022857 L 221.981369 -367.022857 L 223.423244 -367.022857 L 224.865118 -367.022857 L 226.306992 -367.022857 L 227.748866 -367.022857 L 229.19074 -367.022857 L 230.632615 -367.022857 L 232.074489 -367.022857 L 233.516363 -367.022857 L 234.958237 -367.022857 L 236.400112 -367.022857 L 237.841986 -367.022857 L 239.28386 -367.022857 L 240.725734 -367.022857 L 242.167608 -367.022857 L 243.609483 -367.022857 L 245.051357 -367.022857 L 246.493231 -367.022857 L 247.935105 -367.022857 L 249.376979 -367.022857 L 250.818854 -367.022857 L 252.260728 -367.022857 L 253.702602 -367.022857 L 255.144476 -367.022857 L 256.58635 -367.022857 L 258.028225 -367.022857 L 259.470099 -367.022857 L 260.911973 -367.022857 L 262.353847 -367.022857 L 263.795722 -367.022857 L 265.237596 -367.022857 L 266.67947 -367.022857 L 268.121344 -367.022857 L 269.563218 -367.022857 L 271.005093 -367.022857 L 272.446967 -367.022857 L 273.888841 -367.022857 L 275.330715 -367.022857 L 276.772589 -367.022857 L 278.214464 -367.022857 L 279.656338 -367.022857 L 281.098212 -367.022857 L 282.540086 -367.022857 L 283.98196 -367.022857 L 285.423835 -367.022857 L 286.865709 -367.022857 L 288.307583 -367.022857 L 289.749457 -367.022857 L 291.191332 -367.022857 L 292.633206 -367.022857 L 294.07508 -367.022857 L 295.516954 -367.022857 L 296.958828 -367.022857 L 298.400703 -367.022857 L 299.842577 -367.022857 L 301.284451 -367.022857 L 302.726325 -367.022857 L 304.168199 -367.022857 L 305.610074 -367.022857 L 307.051948 -367.022857 L 308.493822 -367.022857 L 309.935696 -367.022857 L 311.377571 -367.022857 L 312.819445 -367.022857 L 314.261319 -367.022857 L 315.703193 -367.022857 L 317.145067 -367.022857 L 318.586942 -367.022857 L 320.028816 -367.022857 L 321.47069 -367.022857 L 322.912564 -367.022857 L 324.354438 -367.022857 L 325.796313 -367.022857 L 327.238187 -367.022857 L 328.680061 -367.022857 L 330.121935 -367.022857 L 331.563809 -367.022857 L 333.005684 -367.022857 L 334.447558 -367.022857 L 335.889432 -367.022857 L 337.331306 -367.022857 L 338.773181 -367.022857 L 340.215055 -367.022857 L 341.656929 -367.022857 L 343.098803 -367.022857 L 344.540677 -367.022857 L 345.982552 -367.022857 L 347.424426 -367.022857 L 347.424426 -367.023639 L 347.424426 -367.023639 L 345.982552 -367.023823 L 344.540677 -367.024044 L 343.098803 -367.024309 L 341.656929 -367.024625 L 340.215055 -367.024999 L 338.773181 -367.02544 L 337.331306 -367.025958 L 335.889432 -367.026561 L 334.447558 -367.027261 L 333.005684 -367.02807 L 331.563809 -367.028998 L 330.121935 -367.030058 L 328.680061 -367.031263 L 327.238187 -367.032624 L 325.796313 -367.034155 L 324.354438 -367.035866 L 322.912564 -367.03777 L 321.47069 -367.039877 L 320.028816 -367.042195 L 318.586942 -367.044733 L 317.145067 -367.047497 L 315.703193 -367.050492 L 314.261319 -367.053718 L 312.819445 -367.057177 L 311.377571 -367.060865 L 309.935696 -367.064777 L 308.493822 -367.068905 L 307.051948 -367.073239 L 305.610074 -367.077767 L 304.168199 -367.082472 L 302.726325 -367.087339 L 301.284451 -367.092348 L 299.842577 -367.097481 L 298.400703 -367.102715 L 296.958828 -367.10803 L 295.516954 -367.113406 L 294.07508 -367.118823 L 292.633206 -367.124261 L 291.191332 -367.129706 L 289.749457 -367.135143 L 288.307583 -367.140562 L 286.865709 -367.145954 L 285.423835 -367.151316 L 283.98196 -367.156649 L 282.540086 -367.161957 L 281.098212 -367.167248 L 279.656338 -367.172534 L 278.214464 -367.177831 L 276.772589 -367.183158 L 275.330715 -367.188536 L 273.888841 -367.193988 L 272.446967 -367.199537 L 271.005093 -367.205206 L 269.563218 -367.211018 L 268.121344 -367.216993 L 266.67947 -367.223146 L 265.237596 -367.229491 L 263.795722 -367.236034 L 262.353847 -367.242775 L 260.911973 -367.249708 L 259.470099 -367.25682 L 258.028225 -367.26409 L 256.58635 -367.271488 L 255.144476 -367.278979 L 253.702602 -367.286519 L 252.260728 -367.29406 L 250.818854 -367.301547 L 249.376979 -367.308922 L 247.935105 -367.316126 L 246.493231 -367.323096 L 245.051357 -367.329773 L 243.609483 -367.336098 L 242.167608 -367.342018 L 240.725734 -367.347483 L 239.28386 -367.352452 L 237.841986 -367.356891 L 236.400112 -367.360774 L 234.958237 -367.364084 L 233.516363 -367.366815 L 232.074489 -367.368967 L 230.632615 -367.370551 L 229.19074 -367.371584 L 227.748866 -367.37209 L 226.306992 -367.3721 L 224.865118 -367.371646 L 223.423244 -367.370766 L 221.981369 -367.369496 L 220.539495 -367.367872 L 219.097621 -367.365932 L 217.655747 -367.363708 L 216.213873 -367.361231 L 214.771998 -367.358527 L 213.330124 -367.355619 L 211.88825 -367.352528 L 210.446376 -367.349271 L 209.004501 -367.345863 L 207.562627 -367.342318 L 206.120753 -367.33865 L 204.678879 -367.334875 L 203.237005 -367.331012 L 201.79513 -367.327081 L 200.353256 -367.323109 L 198.911382 -367.319128 L 197.469508 -367.315175 L 196.027634 -367.311296 L 194.585759 -367.307538 L 193.143885 -367.303959 L 191.702011 -367.300618 L 190.260137 -367.297578 L 188.818263 -367.294907 L 187.376388 -367.29267 L 185.934514 -367.290935 L 184.49264 -367.289762 L 183.050766 -367.289211 L 181.608891 -367.289332 L 180.167017 -367.29017 L 178.725143 -367.291758 L 177.283269 -367.294119 L 175.841395 -367.297264 L 174.39952 -367.301193 L 172.957646 -367.305891 L 171.515772 -367.311333 L 170.073898 -367.317482 L 168.632024 -367.324286 L 167.190149 -367.331687 L 165.748275 -367.339614 L 164.306401 -367.34799 L 162.864527 -367.356729 L 161.422653 -367.365741 L 159.980778 -367.374931 L 158.538904 -367.3842 L 157.09703 -367.393449 L 155.655156 -367.402575 L 154.213281 -367.411479 L 152.771407 -367.42006 L 151.329533 -367.428221 L 149.887659 -367.435864 L 148.445785 -367.442899 L 147.00391 -367.449236 L 145.562036 -367.45479 L 144.120162 -367.459481 L 142.678288 -367.463236 L 141.236414 -367.465985 L 139.794539 -367.467669 L 138.352665 -367.468233 L 136.910791 -367.467632 L 135.468917 -367.465832 L 134.027042 -367.462808 L 132.585168 -367.458545 L 131.143294 -367.453042 L 129.70142 -367.44631 L 128.259546 -367.438372 L 126.817671 -367.429265 L 125.375797 -367.419039 L 123.933923 -367.407756 L 122.492049 -367.395493 L 121.050175 -367.382336 L 119.6083 -367.368381 L 118.166426 -367.353734 L 116.724552 -367.338509 L 115.282678 -367.322824 L 113.840804 -367.306801 L 112.398929 -367.290563 L 110.957055 -367.274234 L 109.515181 -367.257933 L 108.073307 -367.241777 L 106.631432 -367.225875 L 105.189558 -367.210328 L 103.747684 -367.195228 L 102.30581 -367.180658 L 100.863936 -367.166687 L 99.422061 -367.153376 L 97.980187 -367.14077 L 96.538313 -367.128905 L 95.096439 -367.117805 L 93.654565 -367.107481 L 92.21269 -367.097936 L 90.770816 -367.089163 L 89.328942 -367.081146 L 87.887068 -367.073861 L 86.445194 -367.06728 L 85.003319 -367.061368 L 83.561445 -367.056086 L 82.119571 -367.051395 L 80.677697 -367.047251 L 79.235822 -367.04361 L 77.793948 -367.040429 L 76.352074 -367.037666 L 74.9102 -367.035277 L 73.468326 -367.033225 L 72.026451 -367.03147 L 70.584577 -367.029978 L 69.142703 -367.028717 L 67.700829 -367.027656 L 66.258955 -367.026768 L 64.81708 -367.026029 L 63.375206 -367.025417 L 61.933332 -367.024914 L 60.491458 -367.024501 z
" style="stroke: #440154"/>
    </defs>
    <g clip-path="url(#p8f64bed14b)">
     <use href="#m2b85b7ac0e" x="0.360" y="432.288" style="fill: #440154; fill-opacity: 0.25; stroke: #440154"/>
    </g>
   </g>
   <g id="matplotlib.axis_3">
    <g id="xtick_7">
     <g id="line2d_17">
      <g>
       <use href="#m53a5f6c6c3" x="57.9600" y="65.1600" style="stroke: #000000; stroke-width: 0.8"/>
      </g>
     </g>
    </g>
    <g id="xtick_8">
     <g id="line2d_18">
      <g>
       <use href="#m53a5f6c6c3" x="117.0000" y="65.1600" style="stroke: #000000; stroke-width: 0.8"/>
      </g>
     </g>
    </g>
    <g id="xtick_9">
     <g id="line2d_19">
      <g>
       <use href="#m53a5f6c6c3" x="176.0400" y="65.1600" style="stroke: #000000; stroke-width: 0.8"/>
      </g>
     </g>
    </g>
    <g id="xtick_10">
     <g id="line2d_20">
      <g>
       <use href="#m53a5f6c6c3" x="235.0800" y="65.1600" style="stroke: #000000; stroke-width: 0.8"/>
      </g>
     </g>
    </g>
    <g id="xtick_11">
     <g id="line2d_21">
      <g>
       <use href="#m53a5f6c6c3" x="294.1200" y="65.1600" style="stroke: #000000; stroke-width: 0.8"/>
      </g>
     </g>
    </g>
    <g id="xtick_12">
     <g id="line2d_22">
      <g>
       <use href="#m53a5f6c6c3" x="353.1600" y="65.1600" style="stroke: #000000; stroke-width: 0.8"/>
      </g>
     </g>
    </g>
    <g id="text_19">
     <text style="font-size: 10px; font-family: 'DejaVu Sans', 'Liberation Sans', sans-serif; text-anchor: end" x="356.7356" y="75.6720">1e6</text>
    </g>
   </g>
   <g id="matplotlib.axis_4">
    <g id="ytick_7"/>
    <g id="ytick_8"/>
    <g id="text_20">
     <text style="font-size: 10px; font-family: 'DejaVu Sans', 'Liberation Sans', sans-serif; text-anchor: start" x="47.6545" y="7.9920">1e−6</text>
    </g>
   </g>
   <g id="patch_7">
    <path d="M 47.8800 65.1600 L 357.4800 65.1600" style="fill: none; stroke: #000000; stroke-width: 0.8; stroke-linejoin: miter; stroke-linecap: square"/>
   </g>
  </g>
  <g id="axes_3">
   <g id="patch_8">
    <path d="M 367.860179 390.04 L 421.2 390.04 L 421.2 75.812571 L 367.860179 75.812571 z
" style="fill: #ffffff"/>
   </g>
   <g id="FillBetweenPolyCollection_3">
    <defs>
     <path id="mcffa519f7a" d="M 367.865775 -47.441994 L 367.860179 -47.441994 L 367.860179 -48.965931 L 367.860179 -50.489868 L 367.860179 -52.013804 L 367.860179 -53.537741 L 367.860179 -55.061678 L 367.860179 -56.585615 L 367.860179 -58.109552 L 367.860179 -59.633489 L 367.860179 -61.157426 L 367.860179 -62.681363 L 367.860179 -64.2053 L 367.860179 -65.729236 L 367.860179 -67.253173 L 367.860179 -68.77711 L 367.860179 -70.301047 L 367.860179 -71.824984 L 367.860179 -73.348921 L 367.860179 -74.872858 L 367.860179 -76.396795 L 367.860179 -77.920732 L 367.860179 -79.444668 L 367.860179 -80.968605 L 367.860179 -82.492542 L 367.860179 -84.016479 L 367.860179 -85.540416 L 367.860179 -87.064353 L 367.860179 -88.58829 L 367.860179 -90.112227 L 367.860179 -91.636164 L 367.860179 -93.1601 L 367.860179 -94.684037 L 367.860179 -96.207974 L 367.860179 -97.731911 L 367.860179 -99.255848 L 367.860179 -100.779785 L 367.860179 -102.303722 L 367.860179 -103.827659 L 367.860179 -105.351596 L 367.860179 -106.875532 L 367.860179 -108.399469 L 367.860179 -109.923406 L 367.860179 -111.447343 L 367.860179 -112.97128 L 367.860179 -114.495217 L 367.860179 -116.019154 L 367.860179 -117.543091 L 367.860179 -119.067028 L 367.860179 -120.590964 L 367.860179 -122.114901 L 367.860179 -123.638838 L 367.860179 -125.162775 L 367.860179 -126.686712 L 367.860179 -128.210649 L 367.860179 -129.734586 L 367.860179 -131.258523 L 367.860179 -132.78246 L 367.860179 -134.306396 L 367.860179 -135.830333 L 367.860179 -137.35427 L 367.860179 -138.878207 L 367.860179 -140.402144 L 367.860179 -141.926081 L 367.860179 -143.450018 L 367.860179 -144.973955 L 367.860179 -146.497892 L 367.860179 -148.021828 L 367.860179 -149.545765 L 367.860179 -151.069702 L 367.860179 -152.593639 L 367.860179 -154.117576 L 367.860179 -155.641513 L 367.860179 -157.16545 L 367.860179 -158.689387 L 367.860179 -160.213324 L 367.860179 -161.73726 L 367.860179 -163.261197 L 367.860179 -164.785134 L 367.860179 -166.309071 L 367.860179 -167.833008 L 367.860179 -169.356945 L 367.860179 -170.880882 L 367.860179 -172.404819 L 367.860179 -173.928756 L 367.860179 -175.452692 L 367.860179 -176.976629 L 367.860179 -178.500566 L 367.860179 -180.024503 L 367.860179 -181.54844 L 367.860179 -183.072377 L 367.860179 -184.596314 L 367.860179 -186.120251 L 367.860179 -187.644188 L 367.860179 -189.168125 L 367.860179 -190.692061 L 367.860179 -192.215998 L 367.860179 -193.739935 L 367.860179 -195.263872 L 367.860179 -196.787809 L 367.860179 -198.311746 L 367.860179 -199.835683 L 367.860179 -201.35962 L 367.860179 -202.883557 L 367.860179 -204.407493 L 367.860179 -205.93143 L 367.860179 -207.455367 L 367.860179 -208.979304 L 367.860179 -210.503241 L 367.860179 -212.027178 L 367.860179 -213.551115 L 367.860179 -215.075052 L 367.860179 -216.598989 L 367.860179 -218.122925 L 367.860179 -219.646862 L 367.860179 -221.170799 L 367.860179 -222.694736 L 367.860179 -224.218673 L 367.860179 -225.74261 L 367.860179 -227.266547 L 367.860179 -228.790484 L 367.860179 -230.314421 L 367.860179 -231.838357 L 367.860179 -233.362294 L 367.860179 -234.886231 L 367.860179 -236.410168 L 367.860179 -237.934105 L 367.860179 -239.458042 L 367.860179 -240.981979 L 367.860179 -242.505916 L 367.860179 -244.029853 L 367.860179 -245.553789 L 367.860179 -247.077726 L 367.860179 -248.601663 L 367.860179 -250.1256 L 367.860179 -251.649537 L 367.860179 -253.173474 L 367.860179 -254.697411 L 367.860179 -256.221348 L 367.860179 -257.745285 L 367.860179 -259.269221 L 367.860179 -260.793158 L 367.860179 -262.317095 L 367.860179 -263.841032 L 367.860179 -265.364969 L 367.860179 -266.888906 L 367.860179 -268.412843 L 367.860179 -269.93678 L 367.860179 -271.460717 L 367.860179 -272.984653 L 367.860179 -274.50859 L 367.860179 -276.032527 L 367.860179 -277.556464 L 367.860179 -279.080401 L 367.860179 -280.604338 L 367.860179 -282.128275 L 367.860179 -283.652212 L 367.860179 -285.176149 L 367.860179 -286.700085 L 367.860179 -288.224022 L 367.860179 -289.747959 L 367.860179 -291.271896 L 367.860179 -292.795833 L 367.860179 -294.31977 L 367.860179 -295.843707 L 367.860179 -297.367644 L 367.860179 -298.891581 L 367.860179 -300.415517 L 367.860179 -301.939454 L 367.860179 -303.463391 L 367.860179 -304.987328 L 367.860179 -306.511265 L 367.860179 -308.035202 L 367.860179 -309.559139 L 367.860179 -311.083076 L 367.860179 -312.607013 L 367.860179 -314.130949 L 367.860179 -315.654886 L 367.860179 -317.178823 L 367.860179 -318.70276 L 367.860179 -320.226697 L 367.860179 -321.750634 L 367.860179 -323.274571 L 367.860179 -324.798508 L 367.860179 -326.322445 L 367.860179 -327.846381 L 367.860179 -329.370318 L 367.860179 -330.894255 L 367.860179 -332.418192 L 367.860179 -333.942129 L 367.860179 -335.466066 L 367.860179 -336.990003 L 367.860179 -338.51394 L 367.860179 -340.037877 L 367.860179 -341.561814 L 367.860179 -343.08575 L 367.860179 -344.609687 L 367.860179 -346.133624 L 367.860179 -347.657561 L 367.860179 -349.181498 L 367.860179 -350.705435 L 368.42542 -350.705435 L 368.42542 -350.705435 L 368.743841 -349.181498 L 369.209745 -347.657561 L 369.873708 -346.133624 L 370.794971 -344.609687 L 372.038988 -343.08575 L 373.672951 -341.561814 L 375.759137 -340.037877 L 378.34623 -338.51394 L 381.459268 -336.990003 L 385.08931 -335.466066 L 389.184371 -333.942129 L 393.64342 -332.418192 L 398.315145 -330.894255 L 403.002822 -329.370318 L 407.475795 -327.846381 L 411.487054 -326.322445 L 414.795252 -324.798508 L 417.188534 -323.274571 L 418.506922 -321.750634 L 418.660009 -320.226697 L 417.637207 -318.70276 L 415.508972 -317.178823 L 412.418785 -315.654886 L 408.567169 -314.130949 L 404.190225 -312.607013 L 399.535861 -311.083076 L 394.841044 -309.559139 L 390.312878 -308.035202 L 386.115471 -306.511265 L 382.363382 -304.987328 L 379.121374 -303.463391 L 376.409333 -301.939454 L 374.210687 -300.415517 L 372.482524 -298.891581 L 371.165775 -297.367644 L 370.194235 -295.843707 L 369.501672 -294.31977 L 369.026761 -292.795833 L 368.715942 -291.271896 L 368.524568 -289.747959 L 368.416811 -288.224022 L 368.364808 -286.700085 L 368.347452 -285.176149 L 368.349129 -283.652212 L 368.358574 -282.128275 L 368.36795 -280.604338 L 368.372134 -279.080401 L 368.368185 -277.556464 L 368.354937 -276.032527 L 368.332662 -274.50859 L 368.302754 -272.984653 L 368.267429 -271.460717 L 368.229417 -269.93678 L 368.19167 -268.412843 L 368.15709 -266.888906 L 368.128294 -265.364969 L 368.107428 -263.841032 L 368.096025 -262.317095 L 368.094914 -260.793158 L 368.104174 -259.269221 L 368.123132 -257.745285 L 368.150394 -256.221348 L 368.183927 -254.697411 L 368.221185 -253.173474 L 368.259277 -251.649537 L 368.295178 -250.1256 L 368.325969 -248.601663 L 368.349079 -247.077726 L 368.362507 -245.553789 L 368.365 -244.029853 L 368.35615 -242.505916 L 368.33641 -240.981979 L 368.307012 -239.458042 L 368.269812 -237.934105 L 368.227071 -236.410168 L 368.18122 -234.886231 L 368.134622 -233.362294 L 368.089375 -231.838357 L 368.047171 -230.314421 L 368.009218 -228.790484 L 367.976225 -227.266547 L 367.94845 -225.74261 L 367.925773 -224.218673 L 367.907796 -222.694736 L 367.893948 -221.170799 L 367.883574 -219.646862 L 367.876013 -218.122925 L 367.870648 -216.598989 L 367.866941 -215.075052 L 367.864446 -213.551115 L 367.862809 -212.027178 L 367.861763 -210.503241 L 367.861111 -208.979304 L 367.860714 -207.455367 L 367.860479 -205.93143 L 367.860344 -204.407493 L 367.860267 -202.883557 L 367.860225 -201.35962 L 367.860202 -199.835683 L 367.86019 -198.311746 L 367.860184 -196.787809 L 367.860181 -195.263872 L 367.86018 -193.739935 L 367.860179 -192.215998 L 367.860179 -190.692061 L 367.860179 -189.168125 L 367.860179 -187.644188 L 367.860179 -186.120251 L 367.860179 -184.596314 L 367.860179 -183.072377 L 367.860179 -181.54844 L 367.860179 -180.024503 L 367.860179 -178.500566 L 367.860179 -176.976629 L 367.860179 -175.452692 L 367.860179 -173.928756 L 367.860179 -172.404819 L 367.860179 -170.880882 L 367.860179 -169.356945 L 367.860179 -167.833008 L 367.860179 -166.309071 L 367.860179 -164.785134 L 367.860179 -163.261197 L 367.860179 -161.73726 L 367.860179 -160.213324 L 367.860179 -158.689387 L 367.860179 -157.16545 L 367.860179 -155.641513 L 367.860179 -154.117576 L 367.860179 -152.593639 L 367.860179 -151.069702 L 367.860179 -149.545765 L 367.860179 -148.021828 L 367.860179 -146.497892 L 367.860179 -144.973955 L 367.860179 -143.450018 L 367.860179 -141.926081 L 367.860179 -140.402144 L 367.860179 -138.878207 L 367.860179 -137.35427 L 367.860179 -135.830333 L 367.860179 -134.306396 L 367.860179 -132.78246 L 367.860179 -131.258523 L 367.860179 -129.734586 L 367.86018 -128.210649 L 367.860181 -126.686712 L 367.860184 -125.162775 L 367.860189 -123.638838 L 367.8602 -122.114901 L 367.86022 -120.590964 L 367.860258 -119.067028 L 367.860328 -117.543091 L 367.860452 -116.019154 L 367.860668 -114.495217 L 367.861033 -112.97128 L 367.861637 -111.447343 L 367.862609 -109.923406 L 367.864136 -108.399469 L 367.866474 -106.875532 L 367.869961 -105.351596 L 367.875029 -103.827659 L 367.882202 -102.303722 L 367.892085 -100.779785 L 367.905336 -99.255848 L 367.922616 -97.731911 L 367.944514 -96.207974 L 367.971462 -94.684037 L 368.003631 -93.1601 L 368.040829 -91.636164 L 368.082422 -90.112227 L 368.127278 -88.58829 L 368.173776 -87.064353 L 368.219868 -85.540416 L 368.26321 -84.016479 L 368.301348 -82.492542 L 368.331946 -80.968605 L 368.353019 -79.444668 L 368.363146 -77.920732 L 368.361631 -76.396795 L 368.348578 -74.872858 L 368.324882 -73.348921 L 368.292128 -71.824984 L 368.252412 -70.301047 L 368.208126 -68.77711 L 368.161713 -67.253173 L 368.115458 -65.729236 L 368.071309 -64.2053 L 368.030764 -62.681363 L 367.994823 -61.157426 L 367.964001 -59.633489 L 367.938386 -58.109552 L 367.917731 -56.585615 L 367.901553 -55.061678 L 367.889236 -53.537741 L 367.880115 -52.013804 L 367.873541 -50.489868 L 367.868928 -48.965931 L 367.865775 -47.441994 z
" style="stroke: #440154"/>
    </defs>
    <g clip-path="url(#p289cb1b48b)">
     <use href="#mcffa519f7a" x="0.461" y="432.324" style="fill: #440154; fill-opacity: 0.25; stroke: #440154"/>
    </g>
   </g>
   <g id="matplotlib.axis_5">
    <g id="xtick_13"/>
    <g id="xtick_14"/>
   </g>
   <g id="matplotlib.axis_6">
    <g id="ytick_9">
     <g id="line2d_23">
      <g>
       <use href="#m7cbb305f2e" x="368.2800" y="355.3200" style="stroke: #000000; stroke-width: 0.8"/>
      </g>
     </g>
    </g>
    <g id="ytick_10">
     <g id="line2d_24">
      <g>
       <use href="#m7cbb305f2e" x="368.2800" y="306.3600" style="stroke: #000000; stroke-width: 0.8"/>
      </g>
     </g>
    </g>
    <g id="ytick_11">
     <g id="line2d_25">
      <g>
       <use href="#m7cbb305f2e" x="368.2800" y="257.4000" style="stroke: #000000; stroke-width: 0.8"/>
      </g>
     </g>
    </g>
    <g id="ytick_12">
     <g id="line2d_26">
      <g>
       <use href="#m7cbb305f2e" x="368.2800" y="209.1600" style="stroke: #000000; stroke-width: 0.8"/>
      </g>
     </g>
    </g>
    <g id="ytick_13">
     <g id="line2d_27">
      <g>
       <use href="#m7cbb305f2e" x="368.2800" y="160.2000" style="stroke: #000000; stroke-width: 0.8"/>
      </g>
     </g>
    </g>
    <g id="ytick_14">
     <g id="line2d_28">
      <g>
       <use href="#m7cbb305f2e" x="368.2800" y="111.2400" style="stroke: #000000; stroke-width: 0.8"/>
      </g>
     </g>
    </g>
   </g>
   <g id="patch_9">
    <path d="M 368.2800 390.6000 L 368.2800 75.9600" style="fill: none; stroke: #000000; stroke-width: 0.8; stroke-linejoin: miter; stroke-linecap: square"/>
   </g>
  </g>
 </g>
 <defs>
  <clipPath id="p753433474e">
   <rect x="47.82125" y="75.812571" width="309.370964" height="314.227429"/>
  </clipPath>
  <clipPath id="p8f64bed14b">
   <rect x="47.82125" y="10.8" width="309.370964" height="54.177143"/>
  </clipPath>
  <clipPath id="p289cb1b48b">
   <rect x="367.860179" y="75.812571" width="53.339821" height="314.227429"/>
  </clipPath>
 </defs>
</svg>

</body>
</html>
